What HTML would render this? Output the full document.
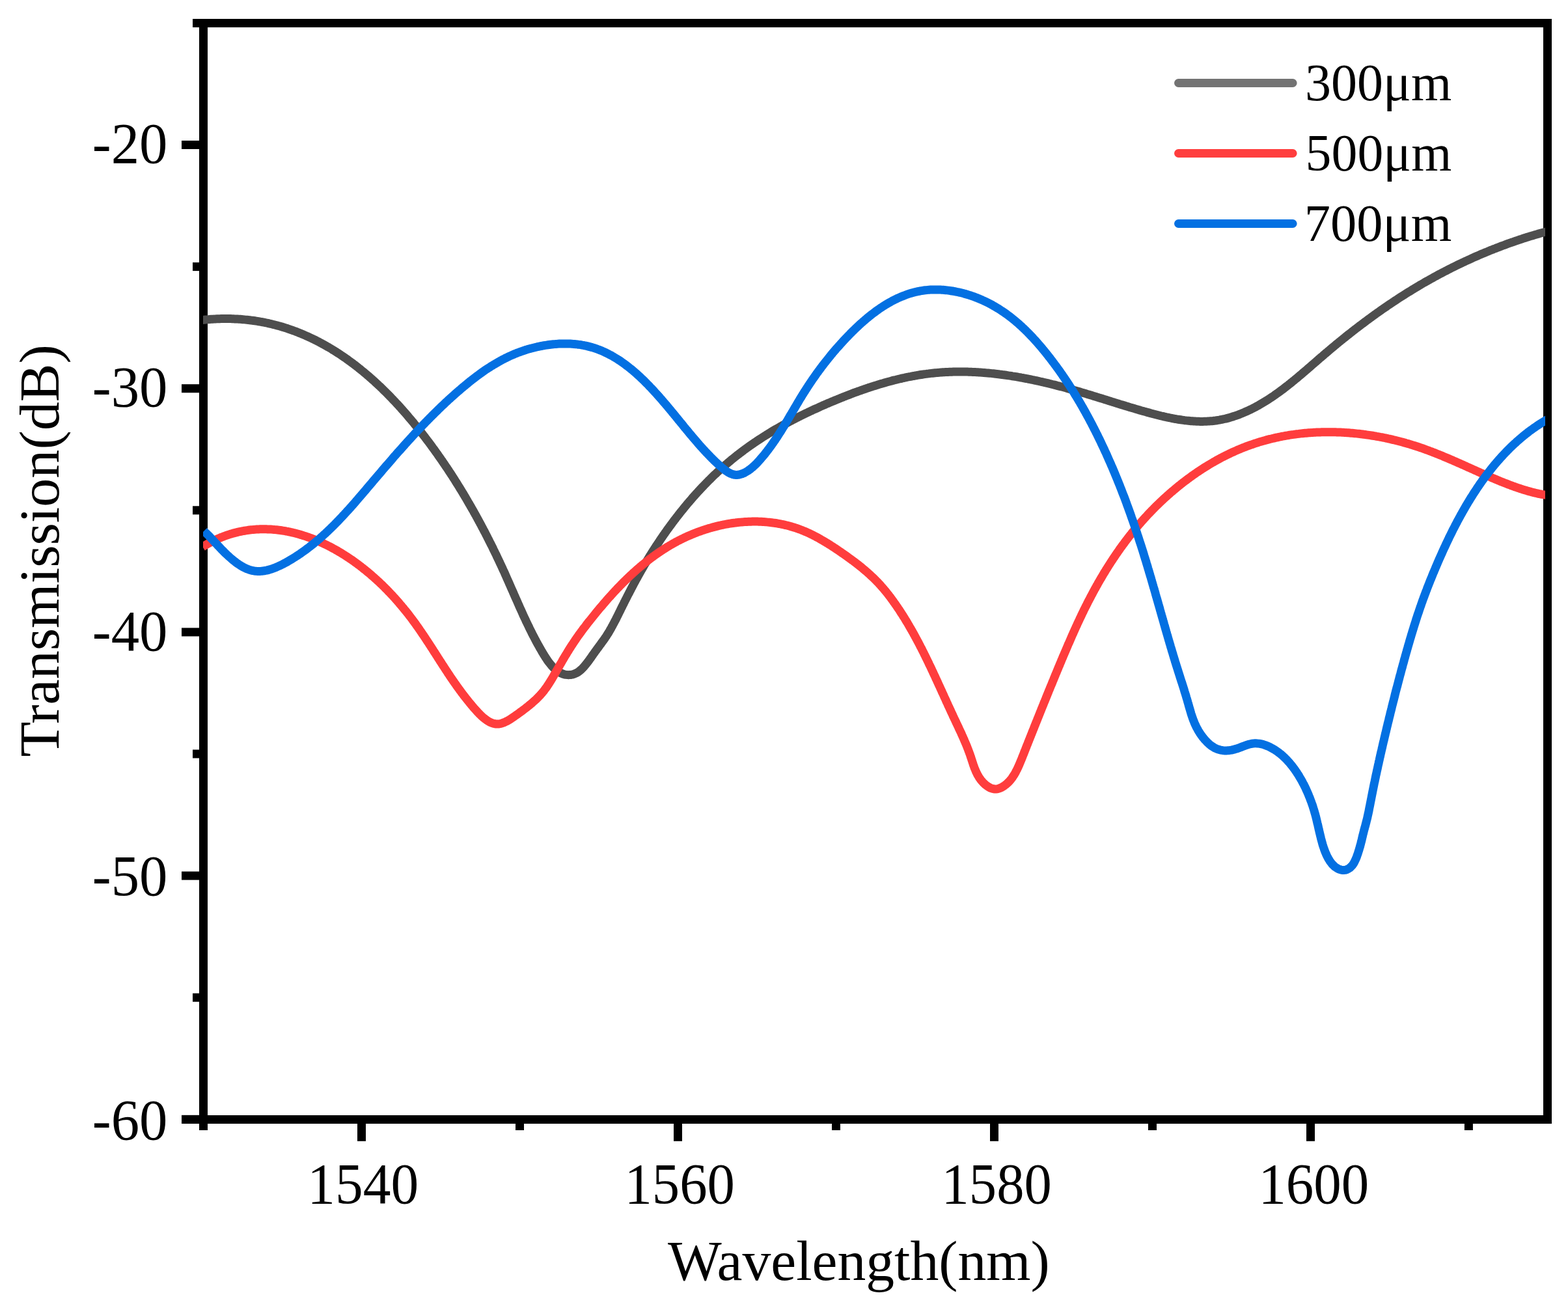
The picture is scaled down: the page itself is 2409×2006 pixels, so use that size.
<!DOCTYPE html><html><head><meta charset="utf-8"><title>Transmission vs Wavelength</title>
<style>html,body{margin:0;padding:0;background:#fff;width:2409px;height:2006px;overflow:hidden}svg{display:block}text{font-family:"Liberation Serif","Times New Roman",serif;fill:#000}</style></head><body>
<svg xmlns="http://www.w3.org/2000/svg" width="2409" height="2006" viewBox="0 0 2409 2006">
<rect width="2409" height="2006" fill="#fff"/>
<rect x="306" y="29" width="13" height="1707" fill="#000"/>
<rect x="296" y="29" width="2088" height="13" fill="#000"/>
<rect x="2371" y="29" width="13" height="1697" fill="#000"/>
<rect x="279" y="1713" width="2105" height="13" fill="#000"/>
<rect x="279" y="216.0" width="28" height="13" fill="#000"/>
<rect x="279" y="590.2" width="28" height="13" fill="#000"/>
<rect x="279" y="964.4" width="28" height="13" fill="#000"/>
<rect x="279" y="1338.6" width="28" height="13" fill="#000"/>
<rect x="279" y="1712.8" width="28" height="13" fill="#000"/>
<rect x="296" y="403.1" width="11" height="13" fill="#000"/>
<rect x="296" y="777.3" width="11" height="13" fill="#000"/>
<rect x="296" y="1151.5" width="11" height="13" fill="#000"/>
<rect x="296" y="1525.7" width="11" height="13" fill="#000"/>
<rect x="549.0" y="1725" width="13" height="27.8" fill="#000"/>
<rect x="1035.0" y="1725" width="13" height="27.8" fill="#000"/>
<rect x="1521.0" y="1725" width="13" height="27.8" fill="#000"/>
<rect x="2007.0" y="1725" width="13" height="27.8" fill="#000"/>
<rect x="792.0" y="1725" width="13" height="11" fill="#000"/>
<rect x="1278.0" y="1725" width="13" height="11" fill="#000"/>
<rect x="1764.0" y="1725" width="13" height="11" fill="#000"/>
<rect x="2249.9" y="1725" width="13" height="11" fill="#000"/>
<text transform="matrix(0.9918,0,0,1.0203,141.78,250.23)" font-size="87.5">-20</text>
<text transform="matrix(0.9918,0,0,1.0186,141.78,624.24)" font-size="87.5">-30</text>
<text transform="matrix(0.9918,0,0,1.0186,141.78,999.24)" font-size="87.5">-40</text>
<text transform="matrix(0.9918,0,0,1.0203,141.78,1375.23)" font-size="87.5">-50</text>
<text transform="matrix(0.9918,0,0,1.0203,141.78,1750.23)" font-size="87.5">-60</text>
<text transform="matrix(0.9768,0,0,1.0169,472.33,1848.04)" font-size="87.5">1540</text>
<text transform="matrix(0.9683,0,0,1.0169,959.50,1848.04)" font-size="87.5">1560</text>
<text transform="matrix(0.9677,0,0,1.0093,1446.50,1847.69)" font-size="87.5">1580</text>
<text transform="matrix(0.9707,0,0,1.0169,1933.38,1848.04)" font-size="87.5">1600</text>
<text transform="matrix(1.0017,0,0,0.9843,1025.90,1965.80)" font-size="87.5">Wavelength(nm)</text>
<text transform="matrix(0,-1.0074,0.9868,0,89.75,1162.51)" font-size="87.5">Transmission(dB)</text>
<defs><clipPath id="pc"><rect x="312.0" y="0" width="2062.0" height="2006"/></clipPath></defs>
<g clip-path="url(#pc)" fill="none" stroke-width="13.0" stroke-linejoin="round">
<path d="M308.9,491.8 L311.1,491.5 L313.3,491.3 L315.6,491.1 L317.8,490.9 L320.0,490.7 L322.2,490.5 L324.4,490.3 L326.6,490.2 L328.8,490.1 L330.9,489.9 L333.1,489.8 L335.3,489.8 L337.5,489.7 L339.6,489.6 L341.8,489.6 L343.9,489.6 L346.0,489.5 L348.2,489.5 L350.3,489.6 L352.4,489.6 L354.5,489.6 L356.6,489.7 L358.8,489.8 L360.8,489.9 L362.9,490.0 L365.0,490.1 L367.1,490.2 L369.2,490.3 L371.3,490.5 L373.3,490.7 L375.4,490.9 L377.4,491.1 L379.5,491.3 L381.5,491.5 L383.5,491.7 L385.6,492.0 L387.6,492.2 L389.6,492.5 L391.6,492.8 L393.6,493.1 L395.6,493.4 L397.6,493.8 L399.6,494.1 L401.6,494.5 L403.6,494.8 L405.6,495.2 L407.5,495.6 L409.5,496.0 L411.4,496.4 L413.4,496.9 L415.3,497.3 L417.3,497.8 L419.2,498.3 L421.1,498.7 L423.1,499.2 L425.0,499.7 L426.9,500.3 L428.8,500.8 L430.7,501.3 L432.6,501.9 L434.5,502.4 L436.4,503.0 L438.3,503.6 L440.1,504.2 L442.0,504.8 L443.9,505.5 L445.7,506.1 L447.6,506.7 L449.4,507.4 L451.3,508.1 L453.1,508.7 L454.9,509.4 L456.8,510.1 L458.6,510.9 L460.4,511.6 L462.2,512.3 L464.0,513.1 L465.8,513.8 L467.6,514.6 L469.4,515.4 L471.2,516.2 L473.0,516.9 L474.7,517.8 L476.5,518.6 L478.3,519.4 L480.0,520.3 L481.8,521.1 L483.5,522.0 L485.3,522.8 L487.0,523.7 L488.8,524.6 L490.5,525.5 L492.2,526.4 L493.9,527.3 L495.6,528.3 L497.3,529.2 L499.0,530.2 L500.7,531.1 L502.4,532.1 L504.1,533.1 L505.8,534.0 L507.5,535.0 L509.2,536.0 L510.8,537.1 L512.5,538.1 L514.1,539.1 L515.8,540.1 L517.4,541.2 L519.1,542.3 L520.7,543.3 L522.4,544.4 L524.0,545.5 L525.6,546.6 L527.2,547.7 L528.8,548.8 L530.5,549.9 L532.1,551.0 L533.7,552.2 L535.3,553.3 L536.8,554.5 L538.4,555.6 L540.0,556.8 L541.6,557.9 L543.1,559.1 L544.7,560.3 L546.3,561.5 L547.8,562.7 L549.4,563.9 L550.9,565.2 L552.5,566.4 L554.0,567.6 L555.5,568.9 L557.1,570.1 L558.6,571.4 L560.1,572.6 L561.6,573.9 L563.1,575.2 L564.6,576.5 L566.1,577.7 L567.6,579.0 L569.1,580.3 L570.6,581.7 L572.1,583.0 L573.6,584.3 L575.0,585.6 L576.5,587.0 L578.0,588.3 L579.4,589.7 L580.9,591.0 L582.3,592.4 L583.8,593.7 L585.2,595.1 L586.7,596.5 L588.1,597.9 L589.5,599.3 L590.9,600.7 L592.4,602.1 L593.8,603.5 L595.2,604.9 L596.6,606.3 L598.0,607.7 L599.4,609.2 L600.8,610.6 L602.2,612.1 L603.5,613.5 L604.9,615.0 L606.3,616.4 L607.7,617.9 L609.0,619.3 L610.4,620.8 L611.8,622.3 L613.1,623.8 L614.5,625.3 L615.8,626.7 L617.1,628.2 L618.5,629.7 L619.8,631.2 L621.1,632.7 L622.5,634.3 L623.8,635.8 L625.1,637.3 L626.4,638.8 L627.7,640.4 L629.0,641.9 L630.3,643.4 L631.6,645.0 L632.9,646.5 L634.2,648.1 L635.5,649.6 L636.7,651.2 L638.0,652.7 L639.3,654.3 L640.6,655.9 L641.8,657.4 L643.1,659.0 L644.3,660.6 L645.6,662.1 L646.8,663.7 L648.1,665.3 L649.3,666.9 L650.5,668.5 L651.8,670.1 L653.0,671.7 L654.2,673.3 L655.4,674.9 L656.6,676.5 L657.9,678.1 L659.1,679.7 L660.3,681.3 L661.5,682.9 L662.7,684.6 L663.8,686.2 L665.0,687.8 L666.2,689.4 L667.4,691.0 L668.6,692.7 L669.7,694.3 L670.9,695.9 L672.1,697.6 L673.2,699.2 L674.4,700.9 L675.5,702.5 L676.7,704.1 L677.8,705.8 L679.0,707.4 L680.1,709.1 L681.2,710.7 L682.4,712.4 L683.5,714.1 L684.6,715.7 L685.7,717.4 L686.9,719.0 L688.0,720.7 L689.1,722.4 L690.2,724.1 L691.3,725.7 L692.4,727.4 L693.5,729.1 L694.6,730.8 L695.6,732.4 L696.7,734.1 L697.8,735.8 L698.9,737.5 L699.9,739.2 L701.0,740.9 L702.1,742.6 L703.1,744.3 L704.2,746.0 L705.3,747.7 L706.3,749.4 L707.3,751.1 L708.4,752.8 L709.4,754.5 L710.5,756.2 L711.5,757.9 L712.5,759.6 L713.6,761.4 L714.6,763.1 L715.6,764.8 L716.6,766.5 L717.6,768.2 L718.6,770.0 L719.6,771.7 L720.6,773.4 L721.6,775.1 L722.6,776.9 L723.6,778.6 L724.6,780.3 L725.6,782.1 L726.6,783.8 L727.6,785.5 L728.5,787.3 L729.5,789.0 L730.5,790.8 L731.5,792.5 L732.4,794.3 L733.4,796.0 L734.3,797.8 L735.3,799.5 L736.2,801.3 L737.2,803.0 L738.1,804.8 L739.1,806.5 L740.0,808.3 L740.9,810.1 L741.9,811.8 L742.8,813.6 L743.7,815.4 L744.7,817.1 L745.6,818.9 L746.5,820.7 L747.4,822.4 L748.3,824.2 L749.2,826.0 L750.1,827.7 L751.0,829.5 L751.9,831.3 L752.8,833.1 L753.7,834.9 L754.6,836.6 L755.5,838.4 L756.4,840.2 L757.3,842.0 L758.1,843.8 L759.0,845.6 L759.9,847.4 L760.7,849.1 L761.6,850.9 L762.5,852.7 L763.3,854.5 L764.2,856.3 L765.0,858.1 L765.9,859.9 L766.7,861.7 L767.6,863.5 L768.4,865.3 L769.3,867.1 L770.1,868.9 L770.9,870.7 L771.8,872.5 L772.6,874.3 L773.4,876.1 L774.3,877.9 L775.1,879.7 L775.9,881.5 L776.7,883.3 L777.5,885.1 L778.3,887.0 L779.1,888.8 L779.9,890.6 L780.7,892.4 L781.5,894.2 L782.3,896.0 L783.1,897.8 L783.9,899.6 L784.7,901.5 L785.5,903.3 L786.3,905.1 L787.1,906.9 L787.9,908.7 L788.7,910.5 L789.5,912.3 L790.3,914.2 L791.1,916.0 L791.9,917.8 L792.7,919.6 L793.5,921.4 L794.3,923.2 L795.1,925.1 L795.9,926.9 L796.7,928.7 L797.5,930.5 L798.3,932.3 L799.1,934.1 L799.9,935.9 L800.8,937.7 L801.6,939.6 L802.4,941.4 L803.2,943.2 L804.0,945.0 L804.9,946.8 L805.7,948.6 L806.6,950.4 L807.4,952.2 L808.2,954.0 L809.1,955.8 L810.0,957.6 L810.8,959.4 L811.7,961.2 L812.6,963.0 L813.4,964.8 L814.3,966.6 L815.2,968.4 L816.1,970.2 L817.0,972.0 L817.9,973.8 L818.8,975.6 L819.7,977.3 L820.7,979.1 L821.6,980.9 L822.5,982.7 L823.5,984.5 L824.4,986.2 L825.4,988.0 L826.4,989.8 L827.4,991.6 L828.4,993.3 L829.3,995.1 L830.4,996.8 L831.4,998.6 L832.4,1000.4 L833.4,1002.1 L834.5,1003.9 L835.5,1005.6 L836.6,1007.3 L837.7,1009.1 L838.8,1010.8 L839.9,1012.4 L841.0,1014.1 L842.1,1015.7 L843.3,1017.3 L844.5,1018.8 L845.7,1020.3 L846.9,1021.8 L848.1,1023.2 L849.4,1024.6 L850.7,1025.9 L852.0,1027.2 L853.3,1028.4 L854.7,1029.5 L856.1,1030.6 L857.5,1031.6 L859.0,1032.5 L860.5,1033.3 L862.0,1034.0 L863.5,1034.7 L865.1,1035.3 L866.7,1035.8 L868.4,1036.2 L870.1,1036.4 L871.7,1036.6 L873.4,1036.7 L875.1,1036.6 L876.9,1036.5 L878.6,1036.2 L880.3,1035.8 L882.0,1035.3 L883.7,1034.6 L885.3,1033.9 L887.0,1032.9 L888.6,1031.9 L890.2,1030.7 L891.8,1029.4 L893.4,1028.0 L894.9,1026.5 L896.4,1024.9 L897.9,1023.2 L899.4,1021.4 L900.8,1019.7 L902.3,1017.8 L903.7,1015.9 L905.1,1014.1 L906.4,1012.2 L907.8,1010.3 L909.1,1008.4 L910.4,1006.5 L911.7,1004.6 L913.0,1002.9 L914.2,1001.1 L915.5,999.4 L916.7,997.7 L917.9,996.1 L919.1,994.5 L920.3,992.9 L921.4,991.3 L922.6,989.8 L923.7,988.2 L924.8,986.7 L925.9,985.2 L927.0,983.7 L928.1,982.1 L929.2,980.6 L930.2,979.0 L931.3,977.5 L932.3,975.9 L933.3,974.3 L934.4,972.6 L935.4,971.0 L936.4,969.3 L937.3,967.6 L938.3,965.9 L939.3,964.2 L940.2,962.4 L941.2,960.7 L942.1,958.9 L943.1,957.1 L944.0,955.3 L944.9,953.6 L945.9,951.8 L946.8,950.0 L947.7,948.2 L948.6,946.4 L949.5,944.6 L950.4,942.7 L951.3,940.9 L952.2,939.1 L953.1,937.3 L953.9,935.5 L954.8,933.8 L955.7,932.0 L956.6,930.2 L957.5,928.4 L958.4,926.7 L959.2,924.9 L960.1,923.2 L961.0,921.4 L961.9,919.7 L962.8,917.9 L963.6,916.2 L964.5,914.5 L965.4,912.8 L966.3,911.1 L967.2,909.4 L968.1,907.6 L969.0,905.9 L969.8,904.2 L970.7,902.6 L971.6,900.9 L972.5,899.2 L973.4,897.5 L974.3,895.8 L975.2,894.1 L976.1,892.5 L977.0,890.8 L977.9,889.1 L978.9,887.5 L979.8,885.8 L980.7,884.1 L981.6,882.5 L982.6,880.8 L983.5,879.1 L984.4,877.5 L985.4,875.8 L986.3,874.2 L987.3,872.5 L988.3,870.9 L989.2,869.2 L990.2,867.5 L991.2,865.9 L992.2,864.2 L993.2,862.6 L994.2,860.9 L995.2,859.3 L996.2,857.6 L997.2,855.9 L998.2,854.3 L999.2,852.6 L1000.3,851.0 L1001.3,849.3 L1002.4,847.6 L1003.4,846.0 L1004.5,844.3 L1005.5,842.7 L1006.6,841.0 L1007.7,839.3 L1008.8,837.7 L1009.9,836.0 L1011.0,834.4 L1012.1,832.7 L1013.2,831.1 L1014.3,829.4 L1015.4,827.8 L1016.5,826.1 L1017.7,824.5 L1018.8,822.8 L1019.9,821.2 L1021.1,819.6 L1022.2,817.9 L1023.4,816.3 L1024.6,814.6 L1025.7,813.0 L1026.9,811.4 L1028.1,809.7 L1029.3,808.1 L1030.5,806.5 L1031.7,804.9 L1032.9,803.2 L1034.1,801.6 L1035.3,800.0 L1036.5,798.4 L1037.8,796.8 L1039.0,795.2 L1040.2,793.6 L1041.5,792.0 L1042.7,790.4 L1044.0,788.8 L1045.2,787.2 L1046.5,785.6 L1047.8,784.0 L1049.1,782.5 L1050.3,780.9 L1051.6,779.3 L1052.9,777.7 L1054.2,776.2 L1055.5,774.6 L1056.8,773.1 L1058.1,771.5 L1059.5,770.0 L1060.8,768.4 L1062.1,766.9 L1063.4,765.3 L1064.8,763.8 L1066.1,762.3 L1067.5,760.8 L1068.8,759.3 L1070.2,757.8 L1071.6,756.2 L1072.9,754.7 L1074.3,753.3 L1075.7,751.8 L1077.1,750.3 L1078.5,748.8 L1079.9,747.3 L1081.3,745.9 L1082.7,744.4 L1084.1,743.0 L1085.5,741.5 L1086.9,740.1 L1088.3,738.6 L1089.8,737.2 L1091.2,735.8 L1092.6,734.4 L1094.1,732.9 L1095.5,731.5 L1097.0,730.1 L1098.4,728.8 L1099.9,727.4 L1101.4,726.0 L1102.8,724.6 L1104.3,723.3 L1105.8,721.9 L1107.3,720.6 L1108.8,719.2 L1110.3,717.9 L1111.8,716.6 L1113.3,715.2 L1114.8,713.9 L1116.3,712.6 L1117.8,711.3 L1119.3,710.0 L1120.8,708.8 L1122.4,707.5 L1123.9,706.2 L1125.4,705.0 L1127.0,703.7 L1128.5,702.5 L1130.1,701.2 L1131.6,700.0 L1133.2,698.8 L1134.8,697.6 L1136.3,696.4 L1137.9,695.2 L1139.5,694.0 L1141.1,692.8 L1142.6,691.6 L1144.2,690.4 L1145.8,689.3 L1147.4,688.1 L1149.0,687.0 L1150.6,685.8 L1152.2,684.7 L1153.8,683.6 L1155.5,682.4 L1157.1,681.3 L1158.7,680.2 L1160.3,679.1 L1162.0,678.0 L1163.6,676.9 L1165.2,675.8 L1166.9,674.7 L1168.5,673.7 L1170.2,672.6 L1171.8,671.5 L1173.5,670.5 L1175.2,669.4 L1176.8,668.4 L1178.5,667.3 L1180.2,666.3 L1181.8,665.3 L1183.5,664.3 L1185.2,663.2 L1186.9,662.2 L1188.6,661.2 L1190.3,660.2 L1192.0,659.2 L1193.7,658.3 L1195.4,657.3 L1197.1,656.3 L1198.8,655.3 L1200.5,654.4 L1202.2,653.4 L1204.0,652.5 L1205.7,651.5 L1207.4,650.6 L1209.1,649.6 L1210.9,648.7 L1212.6,647.8 L1214.4,646.8 L1216.1,645.9 L1217.8,645.0 L1219.6,644.1 L1221.4,643.2 L1223.1,642.3 L1224.9,641.4 L1226.6,640.5 L1228.4,639.6 L1230.2,638.7 L1231.9,637.9 L1233.7,637.0 L1235.5,636.1 L1237.3,635.3 L1239.1,634.4 L1240.9,633.6 L1242.6,632.7 L1244.4,631.9 L1246.2,631.0 L1248.0,630.2 L1249.8,629.3 L1251.6,628.5 L1253.4,627.7 L1255.3,626.9 L1257.1,626.1 L1258.9,625.2 L1260.7,624.4 L1262.5,623.6 L1264.3,622.8 L1266.2,622.0 L1268.0,621.2 L1269.8,620.4 L1271.7,619.6 L1273.5,618.9 L1275.3,618.1 L1277.2,617.3 L1279.0,616.5 L1280.9,615.8 L1282.7,615.0 L1284.6,614.2 L1286.4,613.5 L1288.3,612.7 L1290.1,612.0 L1292.0,611.2 L1293.9,610.5 L1295.7,609.7 L1297.6,609.0 L1299.5,608.2 L1301.3,607.5 L1303.2,606.8 L1305.1,606.1 L1307.0,605.4 L1308.8,604.6 L1310.7,603.9 L1312.6,603.2 L1314.5,602.5 L1316.4,601.9 L1318.3,601.2 L1320.2,600.5 L1322.1,599.8 L1324.0,599.1 L1325.9,598.5 L1327.8,597.8 L1329.7,597.2 L1331.6,596.5 L1333.5,595.9 L1335.4,595.2 L1337.3,594.6 L1339.2,594.0 L1341.1,593.4 L1343.1,592.8 L1345.0,592.2 L1346.9,591.6 L1348.8,591.0 L1350.7,590.4 L1352.7,589.8 L1354.6,589.2 L1356.5,588.7 L1358.4,588.1 L1360.4,587.6 L1362.3,587.0 L1364.2,586.5 L1366.2,586.0 L1368.1,585.5 L1370.1,584.9 L1372.0,584.4 L1373.9,583.9 L1375.9,583.5 L1377.8,583.0 L1379.8,582.5 L1381.7,582.0 L1383.7,581.6 L1385.6,581.1 L1387.6,580.7 L1389.5,580.3 L1391.5,579.8 L1393.4,579.4 L1395.4,579.0 L1397.4,578.6 L1399.3,578.3 L1401.3,577.9 L1403.2,577.5 L1405.2,577.2 L1407.2,576.8 L1409.1,576.5 L1411.1,576.1 L1413.1,575.8 L1415.0,575.5 L1417.0,575.2 L1419.0,574.9 L1420.9,574.6 L1422.9,574.4 L1424.9,574.1 L1426.9,573.9 L1428.8,573.6 L1430.8,573.4 L1432.8,573.2 L1434.8,573.0 L1436.8,572.8 L1438.7,572.6 L1440.7,572.4 L1442.7,572.3 L1444.7,572.1 L1446.7,572.0 L1448.6,571.8 L1450.6,571.7 L1452.6,571.6 L1454.6,571.5 L1456.6,571.4 L1458.6,571.3 L1460.5,571.2 L1462.5,571.2 L1464.5,571.1 L1466.5,571.1 L1468.5,571.1 L1470.5,571.0 L1472.5,571.0 L1474.4,571.0 L1476.4,571.0 L1478.4,571.0 L1480.4,571.0 L1482.4,571.1 L1484.4,571.1 L1486.4,571.1 L1488.3,571.2 L1490.3,571.3 L1492.3,571.3 L1494.3,571.4 L1496.3,571.5 L1498.3,571.6 L1500.3,571.7 L1502.2,571.8 L1504.2,572.0 L1506.2,572.1 L1508.2,572.2 L1510.2,572.4 L1512.1,572.5 L1514.1,572.7 L1516.1,572.9 L1518.1,573.0 L1520.1,573.2 L1522.0,573.4 L1524.0,573.6 L1526.0,573.8 L1528.0,574.0 L1529.9,574.3 L1531.9,574.5 L1533.9,574.7 L1535.8,575.0 L1537.8,575.2 L1539.8,575.5 L1541.7,575.7 L1543.7,576.0 L1545.7,576.3 L1547.6,576.6 L1549.6,576.9 L1551.5,577.1 L1553.5,577.4 L1555.5,577.8 L1557.4,578.1 L1559.4,578.4 L1561.3,578.7 L1563.3,579.0 L1565.2,579.4 L1567.2,579.7 L1569.1,580.1 L1571.0,580.4 L1573.0,580.8 L1574.9,581.2 L1576.9,581.5 L1578.8,581.9 L1580.7,582.3 L1582.7,582.7 L1584.6,583.1 L1586.5,583.5 L1588.4,583.9 L1590.4,584.3 L1592.3,584.7 L1594.2,585.1 L1596.1,585.5 L1598.0,586.0 L1599.9,586.4 L1601.8,586.8 L1603.7,587.3 L1605.7,587.7 L1607.6,588.2 L1609.5,588.6 L1611.3,589.1 L1613.2,589.5 L1615.1,590.0 L1617.0,590.5 L1618.9,590.9 L1620.8,591.4 L1622.7,591.9 L1624.5,592.4 L1626.4,592.9 L1628.3,593.4 L1630.1,593.8 L1632.0,594.3 L1633.9,594.8 L1635.7,595.3 L1637.6,595.8 L1639.4,596.4 L1641.3,596.9 L1643.1,597.4 L1645.0,597.9 L1646.8,598.4 L1648.6,598.9 L1650.5,599.5 L1652.3,600.0 L1654.1,600.5 L1656.0,601.1 L1657.8,601.6 L1659.6,602.1 L1661.4,602.7 L1663.3,603.2 L1665.1,603.8 L1666.9,604.3 L1668.7,604.8 L1670.5,605.4 L1672.3,605.9 L1674.2,606.5 L1676.0,607.1 L1677.8,607.6 L1679.6,608.2 L1681.4,608.7 L1683.2,609.3 L1685.0,609.8 L1686.8,610.4 L1688.7,611.0 L1690.5,611.5 L1692.3,612.1 L1694.1,612.6 L1695.9,613.2 L1697.7,613.8 L1699.5,614.3 L1701.4,614.9 L1703.2,615.5 L1705.0,616.0 L1706.8,616.6 L1708.6,617.2 L1710.5,617.7 L1712.3,618.3 L1714.1,618.9 L1716.0,619.5 L1717.8,620.0 L1719.6,620.6 L1721.5,621.2 L1723.3,621.7 L1725.2,622.3 L1727.0,622.9 L1728.9,623.4 L1730.7,624.0 L1732.6,624.5 L1734.4,625.1 L1736.3,625.7 L1738.2,626.2 L1740.0,626.8 L1741.9,627.3 L1743.8,627.9 L1745.7,628.5 L1747.6,629.0 L1749.5,629.6 L1751.4,630.1 L1753.3,630.7 L1755.2,631.2 L1757.1,631.8 L1759.0,632.3 L1760.9,632.8 L1762.9,633.4 L1764.8,633.9 L1766.7,634.4 L1768.7,635.0 L1770.6,635.5 L1772.6,636.0 L1774.5,636.5 L1776.5,637.0 L1778.4,637.5 L1780.4,638.0 L1782.3,638.5 L1784.3,639.0 L1786.3,639.4 L1788.3,639.9 L1790.2,640.3 L1792.2,640.8 L1794.2,641.2 L1796.2,641.6 L1798.2,642.0 L1800.1,642.4 L1802.1,642.8 L1804.1,643.2 L1806.1,643.5 L1808.1,643.9 L1810.1,644.2 L1812.1,644.5 L1814.1,644.8 L1816.1,645.1 L1818.1,645.4 L1820.0,645.7 L1822.0,645.9 L1824.0,646.1 L1826.0,646.3 L1828.0,646.5 L1830.0,646.7 L1832.0,646.8 L1834.0,647.0 L1836.0,647.1 L1838.0,647.2 L1840.0,647.3 L1841.9,647.3 L1843.9,647.4 L1845.9,647.4 L1847.9,647.4 L1849.9,647.3 L1851.8,647.3 L1853.8,647.2 L1855.8,647.1 L1857.7,647.0 L1859.7,646.8 L1861.7,646.7 L1863.6,646.5 L1865.6,646.2 L1867.5,646.0 L1869.5,645.7 L1871.4,645.4 L1873.4,645.1 L1875.3,644.7 L1877.2,644.3 L1879.2,643.9 L1881.1,643.5 L1883.0,643.1 L1884.9,642.6 L1886.8,642.1 L1888.7,641.6 L1890.6,641.0 L1892.5,640.4 L1894.4,639.9 L1896.3,639.2 L1898.1,638.6 L1900.0,638.0 L1901.9,637.3 L1903.7,636.6 L1905.6,635.9 L1907.4,635.1 L1909.3,634.4 L1911.1,633.6 L1912.9,632.8 L1914.7,632.0 L1916.5,631.2 L1918.3,630.4 L1920.1,629.5 L1921.9,628.7 L1923.7,627.8 L1925.4,626.9 L1927.2,626.0 L1929.0,625.1 L1930.7,624.1 L1932.4,623.2 L1934.2,622.2 L1935.9,621.2 L1937.6,620.2 L1939.3,619.2 L1941.0,618.2 L1942.7,617.2 L1944.4,616.2 L1946.0,615.1 L1947.7,614.1 L1949.4,613.0 L1951.0,611.9 L1952.7,610.8 L1954.3,609.7 L1956.0,608.6 L1957.6,607.5 L1959.2,606.3 L1960.8,605.2 L1962.5,604.0 L1964.1,602.9 L1965.7,601.7 L1967.3,600.5 L1968.9,599.3 L1970.5,598.2 L1972.1,597.0 L1973.6,595.7 L1975.2,594.5 L1976.8,593.3 L1978.4,592.1 L1979.9,590.8 L1981.5,589.6 L1983.0,588.4 L1984.6,587.1 L1986.1,585.8 L1987.7,584.6 L1989.2,583.3 L1990.8,582.0 L1992.3,580.8 L1993.9,579.5 L1995.4,578.2 L1996.9,576.9 L1998.5,575.6 L2000.0,574.3 L2001.5,573.0 L2003.0,571.7 L2004.6,570.4 L2006.1,569.1 L2007.6,567.8 L2009.1,566.5 L2010.6,565.2 L2012.2,563.9 L2013.7,562.6 L2015.2,561.2 L2016.7,559.9 L2018.2,558.6 L2019.7,557.3 L2021.3,556.0 L2022.8,554.7 L2024.3,553.3 L2025.8,552.0 L2027.3,550.7 L2028.8,549.4 L2030.4,548.1 L2031.9,546.8 L2033.4,545.5 L2034.9,544.2 L2036.4,542.9 L2038.0,541.6 L2039.5,540.3 L2041.0,539.0 L2042.6,537.7 L2044.1,536.4 L2045.6,535.1 L2047.2,533.8 L2048.7,532.6 L2050.2,531.3 L2051.8,530.0 L2053.3,528.7 L2054.8,527.5 L2056.4,526.2 L2057.9,524.9 L2059.5,523.7 L2061.0,522.4 L2062.6,521.2 L2064.1,519.9 L2065.7,518.7 L2067.3,517.4 L2068.8,516.2 L2070.4,514.9 L2071.9,513.7 L2073.5,512.5 L2075.1,511.2 L2076.6,510.0 L2078.2,508.8 L2079.8,507.5 L2081.3,506.3 L2082.9,505.1 L2084.5,503.9 L2086.1,502.7 L2087.6,501.5 L2089.2,500.3 L2090.8,499.1 L2092.4,497.9 L2094.0,496.7 L2095.6,495.5 L2097.2,494.3 L2098.8,493.1 L2100.4,491.9 L2102.0,490.7 L2103.6,489.6 L2105.2,488.4 L2106.8,487.2 L2108.4,486.0 L2110.0,484.9 L2111.6,483.7 L2113.2,482.6 L2114.8,481.4 L2116.4,480.2 L2118.1,479.1 L2119.7,478.0 L2121.3,476.8 L2122.9,475.7 L2124.6,474.5 L2126.2,473.4 L2127.8,472.3 L2129.5,471.2 L2131.1,470.0 L2132.7,468.9 L2134.4,467.8 L2136.0,466.7 L2137.7,465.6 L2139.3,464.5 L2141.0,463.4 L2142.6,462.3 L2144.3,461.2 L2146.0,460.1 L2147.6,459.0 L2149.3,457.9 L2151.0,456.8 L2152.6,455.8 L2154.3,454.7 L2156.0,453.6 L2157.7,452.6 L2159.3,451.5 L2161.0,450.4 L2162.7,449.4 L2164.4,448.3 L2166.1,447.3 L2167.8,446.3 L2169.5,445.2 L2171.2,444.2 L2172.9,443.1 L2174.6,442.1 L2176.3,441.1 L2178.0,440.1 L2179.7,439.1 L2181.4,438.0 L2183.2,437.0 L2184.9,436.0 L2186.6,435.0 L2188.3,434.0 L2190.1,433.0 L2191.8,432.1 L2193.5,431.1 L2195.3,430.1 L2197.0,429.1 L2198.8,428.1 L2200.5,427.2 L2202.3,426.2 L2204.0,425.2 L2205.8,424.3 L2207.5,423.3 L2209.3,422.4 L2211.0,421.4 L2212.8,420.5 L2214.6,419.6 L2216.3,418.6 L2218.1,417.7 L2219.9,416.8 L2221.7,415.9 L2223.4,415.0 L2225.2,414.0 L2227.0,413.1 L2228.8,412.2 L2230.6,411.3 L2232.4,410.4 L2234.2,409.6 L2235.9,408.7 L2237.7,407.8 L2239.5,406.9 L2241.3,406.0 L2243.1,405.2 L2245.0,404.3 L2246.8,403.4 L2248.6,402.6 L2250.4,401.7 L2252.2,400.9 L2254.0,400.1 L2255.8,399.2 L2257.7,398.4 L2259.5,397.6 L2261.3,396.7 L2263.1,395.9 L2265.0,395.1 L2266.8,394.3 L2268.6,393.5 L2270.5,392.7 L2272.3,391.9 L2274.2,391.1 L2276.0,390.3 L2277.8,389.5 L2279.7,388.8 L2281.5,388.0 L2283.4,387.2 L2285.2,386.5 L2287.1,385.7 L2288.9,384.9 L2290.8,384.2 L2292.7,383.5 L2294.5,382.7 L2296.4,382.0 L2298.3,381.3 L2300.1,380.5 L2302.0,379.8 L2303.9,379.1 L2305.7,378.4 L2307.6,377.7 L2309.5,377.0 L2311.4,376.3 L2313.2,375.6 L2315.1,374.9 L2317.0,374.2 L2318.9,373.5 L2320.8,372.9 L2322.7,372.2 L2324.6,371.6 L2326.5,370.9 L2328.3,370.2 L2330.2,369.6 L2332.1,369.0 L2334.0,368.3 L2335.9,367.7 L2337.8,367.1 L2339.7,366.4 L2341.6,365.8 L2343.5,365.2 L2345.5,364.6 L2347.4,364.0 L2349.3,363.4 L2351.2,362.8 L2353.1,362.3 L2355.0,361.7 L2356.9,361.1 L2358.8,360.5 L2360.8,360.0 L2362.7,359.4 L2364.6,358.9 L2366.5,358.3 L2368.4,357.8 L2370.4,357.2 L2372.3,356.7 L2374.2,356.2 L2376.2,355.7 L2378.1,355.2 L2380.0,354.6" stroke="#4e4e4e"/>
<path d="M311.3,839.9 L313.2,838.7 L315.1,837.6 L317.1,836.5 L319.0,835.4 L321.0,834.3 L322.9,833.3 L324.9,832.3 L326.8,831.3 L328.8,830.3 L330.7,829.4 L332.7,828.5 L334.6,827.6 L336.6,826.8 L338.5,825.9 L340.5,825.1 L342.5,824.4 L344.4,823.6 L346.4,822.9 L348.3,822.2 L350.3,821.6 L352.3,820.9 L354.2,820.3 L356.2,819.7 L358.2,819.1 L360.1,818.6 L362.1,818.1 L364.1,817.6 L366.0,817.1 L368.0,816.7 L370.0,816.3 L371.9,815.9 L373.9,815.5 L375.9,815.2 L377.8,814.9 L379.8,814.6 L381.8,814.3 L383.7,814.0 L385.7,813.8 L387.7,813.6 L389.6,813.4 L391.6,813.3 L393.6,813.1 L395.5,813.0 L397.5,812.9 L399.4,812.8 L401.4,812.8 L403.3,812.8 L405.3,812.8 L407.2,812.8 L409.2,812.8 L411.1,812.9 L413.1,812.9 L415.0,813.0 L417.0,813.1 L418.9,813.3 L420.9,813.4 L422.8,813.6 L424.7,813.8 L426.7,814.0 L428.6,814.3 L430.5,814.5 L432.5,814.8 L434.4,815.1 L436.3,815.4 L438.2,815.7 L440.1,816.1 L442.1,816.4 L444.0,816.8 L445.9,817.2 L447.8,817.7 L449.7,818.1 L451.6,818.5 L453.5,819.0 L455.4,819.5 L457.3,820.0 L459.1,820.5 L461.0,821.1 L462.9,821.6 L464.8,822.2 L466.6,822.8 L468.5,823.4 L470.4,824.0 L472.2,824.7 L474.1,825.3 L475.9,826.0 L477.8,826.7 L479.6,827.4 L481.5,828.1 L483.3,828.8 L485.1,829.6 L486.9,830.3 L488.8,831.1 L490.6,831.9 L492.4,832.7 L494.2,833.5 L496.0,834.4 L497.8,835.2 L499.6,836.1 L501.4,836.9 L503.1,837.8 L504.9,838.7 L506.7,839.6 L508.4,840.5 L510.2,841.5 L511.9,842.4 L513.7,843.4 L515.4,844.3 L517.1,845.3 L518.9,846.3 L520.6,847.3 L522.3,848.3 L524.0,849.4 L525.7,850.4 L527.4,851.5 L529.1,852.5 L530.8,853.6 L532.5,854.7 L534.1,855.8 L535.8,856.9 L537.4,858.0 L539.1,859.1 L540.7,860.2 L542.4,861.4 L544.0,862.5 L545.6,863.7 L547.2,864.9 L548.8,866.0 L550.4,867.2 L552.0,868.4 L553.6,869.6 L555.2,870.9 L556.8,872.1 L558.3,873.3 L559.9,874.6 L561.5,875.8 L563.0,877.1 L564.5,878.3 L566.1,879.6 L567.6,880.9 L569.1,882.2 L570.6,883.5 L572.1,884.8 L573.6,886.1 L575.1,887.4 L576.6,888.8 L578.1,890.1 L579.5,891.4 L581.0,892.8 L582.4,894.1 L583.9,895.5 L585.3,896.9 L586.8,898.2 L588.2,899.6 L589.6,901.0 L591.0,902.4 L592.4,903.8 L593.8,905.2 L595.2,906.6 L596.5,908.0 L597.9,909.5 L599.3,910.9 L600.6,912.3 L602.0,913.8 L603.3,915.2 L604.6,916.6 L606.0,918.1 L607.3,919.6 L608.6,921.0 L609.9,922.5 L611.2,924.0 L612.5,925.4 L613.7,926.9 L615.0,928.4 L616.3,929.9 L617.5,931.4 L618.8,932.9 L620.0,934.4 L621.2,935.9 L622.5,937.4 L623.7,938.9 L624.9,940.4 L626.1,941.9 L627.3,943.4 L628.4,944.9 L629.6,946.5 L630.8,948.0 L631.9,949.5 L633.1,951.0 L634.2,952.6 L635.3,954.1 L636.5,955.6 L637.6,957.2 L638.7,958.7 L639.8,960.3 L640.9,961.8 L642.0,963.4 L643.1,964.9 L644.2,966.5 L645.2,968.0 L646.3,969.6 L647.4,971.1 L648.4,972.7 L649.5,974.3 L650.6,975.8 L651.6,977.4 L652.7,979.0 L653.7,980.5 L654.7,982.1 L655.8,983.7 L656.8,985.3 L657.9,986.9 L658.9,988.4 L659.9,990.0 L661.0,991.6 L662.0,993.2 L663.0,994.8 L664.1,996.4 L665.1,998.0 L666.1,999.6 L667.1,1001.2 L668.2,1002.8 L669.2,1004.4 L670.2,1006.0 L671.3,1007.6 L672.3,1009.2 L673.3,1010.9 L674.4,1012.5 L675.4,1014.1 L676.4,1015.7 L677.5,1017.3 L678.5,1019.0 L679.6,1020.6 L680.6,1022.2 L681.7,1023.8 L682.8,1025.5 L683.8,1027.1 L684.9,1028.7 L686.0,1030.4 L687.1,1032.0 L688.1,1033.7 L689.2,1035.3 L690.3,1036.9 L691.4,1038.6 L692.5,1040.2 L693.6,1041.9 L694.8,1043.5 L695.9,1045.2 L697.0,1046.8 L698.2,1048.5 L699.3,1050.1 L700.5,1051.7 L701.6,1053.4 L702.8,1055.0 L704.0,1056.7 L705.2,1058.3 L706.4,1060.0 L707.6,1061.6 L708.8,1063.3 L710.0,1064.9 L711.3,1066.5 L712.5,1068.2 L713.8,1069.8 L715.1,1071.5 L716.4,1073.1 L717.6,1074.7 L719.0,1076.4 L720.3,1078.0 L721.6,1079.6 L722.9,1081.2 L724.3,1082.9 L725.7,1084.5 L727.0,1086.1 L728.4,1087.7 L729.8,1089.3 L731.3,1090.9 L732.7,1092.5 L734.1,1094.0 L735.6,1095.6 L737.1,1097.1 L738.5,1098.5 L740.0,1099.9 L741.5,1101.3 L743.0,1102.6 L744.6,1103.8 L746.1,1105.0 L747.6,1106.1 L749.2,1107.2 L750.8,1108.1 L752.3,1109.0 L753.9,1109.7 L755.5,1110.4 L757.1,1111.0 L758.7,1111.4 L760.3,1111.8 L761.9,1112.0 L763.5,1112.1 L765.1,1112.0 L766.8,1111.9 L768.4,1111.6 L770.0,1111.2 L771.7,1110.7 L773.3,1110.1 L775.0,1109.5 L776.6,1108.7 L778.3,1107.9 L780.0,1107.0 L781.6,1106.1 L783.3,1105.1 L785.0,1104.0 L786.6,1102.9 L788.3,1101.8 L790.0,1100.6 L791.6,1099.4 L793.3,1098.3 L795.0,1097.1 L796.7,1095.8 L798.3,1094.6 L800.0,1093.4 L801.7,1092.2 L803.3,1091.0 L804.9,1089.7 L806.6,1088.5 L808.2,1087.2 L809.8,1086.0 L811.4,1084.7 L813.0,1083.4 L814.6,1082.1 L816.1,1080.8 L817.6,1079.6 L819.1,1078.2 L820.6,1076.9 L822.0,1075.6 L823.5,1074.3 L824.9,1072.9 L826.2,1071.6 L827.6,1070.2 L828.9,1068.9 L830.2,1067.5 L831.4,1066.1 L832.6,1064.7 L833.8,1063.3 L834.9,1061.9 L836.1,1060.5 L837.1,1059.0 L838.2,1057.6 L839.3,1056.1 L840.3,1054.7 L841.3,1053.2 L842.3,1051.7 L843.3,1050.2 L844.2,1048.7 L845.2,1047.2 L846.1,1045.7 L847.0,1044.1 L848.0,1042.6 L848.9,1041.0 L849.8,1039.5 L850.7,1037.9 L851.6,1036.3 L852.6,1034.7 L853.5,1033.1 L854.4,1031.5 L855.4,1029.8 L856.3,1028.2 L857.3,1026.5 L858.2,1024.9 L859.2,1023.2 L860.1,1021.5 L861.1,1019.9 L862.1,1018.2 L863.1,1016.5 L864.0,1014.8 L865.0,1013.1 L866.0,1011.4 L867.0,1009.7 L868.0,1008.0 L869.1,1006.3 L870.1,1004.7 L871.1,1003.0 L872.1,1001.3 L873.2,999.6 L874.2,997.9 L875.2,996.3 L876.3,994.6 L877.3,993.0 L878.4,991.3 L879.5,989.7 L880.5,988.1 L881.6,986.5 L882.7,984.9 L883.8,983.3 L884.8,981.7 L885.9,980.1 L887.0,978.5 L888.1,977.0 L889.2,975.4 L890.4,973.9 L891.5,972.3 L892.6,970.8 L893.7,969.2 L894.9,967.7 L896.0,966.2 L897.1,964.7 L898.3,963.2 L899.5,961.7 L900.6,960.1 L901.8,958.6 L902.9,957.1 L904.1,955.6 L905.3,954.2 L906.5,952.7 L907.7,951.2 L908.9,949.7 L910.1,948.2 L911.3,946.7 L912.5,945.2 L913.7,943.7 L914.9,942.2 L916.1,940.8 L917.3,939.3 L918.6,937.8 L919.8,936.3 L921.0,934.8 L922.3,933.3 L923.5,931.9 L924.8,930.4 L926.1,928.9 L927.3,927.4 L928.6,926.0 L929.9,924.5 L931.2,923.0 L932.4,921.5 L933.7,920.1 L935.0,918.6 L936.3,917.2 L937.7,915.7 L939.0,914.2 L940.3,912.8 L941.6,911.3 L942.9,909.9 L944.3,908.4 L945.6,907.0 L947.0,905.6 L948.3,904.1 L949.7,902.7 L951.1,901.3 L952.4,899.9 L953.8,898.5 L955.2,897.0 L956.6,895.6 L958.0,894.2 L959.4,892.8 L960.8,891.5 L962.2,890.1 L963.6,888.7 L965.1,887.3 L966.5,886.0 L967.9,884.6 L969.4,883.2 L970.8,881.9 L972.3,880.5 L973.8,879.2 L975.2,877.9 L976.7,876.6 L978.2,875.2 L979.7,873.9 L981.2,872.6 L982.7,871.3 L984.2,870.0 L985.7,868.8 L987.2,867.5 L988.8,866.2 L990.3,865.0 L991.9,863.7 L993.4,862.5 L995.0,861.2 L996.5,860.0 L998.1,858.8 L999.7,857.6 L1001.3,856.4 L1002.9,855.2 L1004.5,854.0 L1006.1,852.9 L1007.7,851.7 L1009.3,850.6 L1011.0,849.4 L1012.6,848.3 L1014.3,847.2 L1015.9,846.1 L1017.6,845.0 L1019.3,843.9 L1020.9,842.8 L1022.6,841.8 L1024.3,840.7 L1026.0,839.7 L1027.7,838.6 L1029.4,837.6 L1031.2,836.6 L1032.9,835.6 L1034.6,834.6 L1036.4,833.7 L1038.1,832.7 L1039.9,831.7 L1041.7,830.8 L1043.5,829.9 L1045.2,829.0 L1047.0,828.1 L1048.8,827.2 L1050.7,826.3 L1052.5,825.5 L1054.3,824.6 L1056.1,823.8 L1058.0,823.0 L1059.8,822.2 L1061.7,821.4 L1063.6,820.6 L1065.4,819.9 L1067.3,819.1 L1069.2,818.4 L1071.1,817.6 L1073.0,816.9 L1074.9,816.3 L1076.8,815.6 L1078.7,814.9 L1080.6,814.3 L1082.5,813.6 L1084.4,813.0 L1086.4,812.4 L1088.3,811.8 L1090.2,811.2 L1092.2,810.7 L1094.1,810.1 L1096.1,809.6 L1098.1,809.1 L1100.0,808.6 L1102.0,808.1 L1103.9,807.6 L1105.9,807.2 L1107.9,806.7 L1109.9,806.3 L1111.8,805.9 L1113.8,805.5 L1115.8,805.1 L1117.8,804.8 L1119.8,804.4 L1121.8,804.1 L1123.8,803.8 L1125.8,803.5 L1127.8,803.2 L1129.8,803.0 L1131.8,802.7 L1133.8,802.5 L1135.8,802.3 L1137.8,802.1 L1139.8,801.9 L1141.8,801.8 L1143.8,801.6 L1145.8,801.5 L1147.8,801.4 L1149.8,801.3 L1151.8,801.2 L1153.8,801.2 L1155.8,801.1 L1157.8,801.1 L1159.8,801.1 L1161.8,801.1 L1163.8,801.1 L1165.8,801.2 L1167.8,801.3 L1169.8,801.3 L1171.7,801.5 L1173.7,801.6 L1175.7,801.7 L1177.7,801.9 L1179.7,802.1 L1181.7,802.3 L1183.6,802.5 L1185.6,802.7 L1187.6,803.0 L1189.5,803.2 L1191.5,803.5 L1193.5,803.8 L1195.4,804.2 L1197.4,804.5 L1199.3,804.9 L1201.3,805.3 L1203.2,805.7 L1205.1,806.1 L1207.1,806.6 L1209.0,807.0 L1210.9,807.5 L1212.8,808.0 L1214.7,808.6 L1216.6,809.1 L1218.5,809.7 L1220.4,810.3 L1222.3,810.9 L1224.2,811.5 L1226.0,812.1 L1227.9,812.8 L1229.8,813.5 L1231.6,814.2 L1233.5,815.0 L1235.3,815.7 L1237.1,816.5 L1239.0,817.3 L1240.8,818.1 L1242.6,818.9 L1244.4,819.8 L1246.2,820.6 L1248.0,821.5 L1249.8,822.4 L1251.5,823.3 L1253.3,824.2 L1255.1,825.2 L1256.8,826.1 L1258.6,827.1 L1260.3,828.1 L1262.0,829.1 L1263.8,830.1 L1265.5,831.1 L1267.2,832.1 L1268.9,833.1 L1270.6,834.2 L1272.3,835.2 L1274.0,836.3 L1275.6,837.3 L1277.3,838.4 L1279.0,839.5 L1280.6,840.5 L1282.3,841.6 L1283.9,842.7 L1285.5,843.8 L1287.2,844.9 L1288.8,846.0 L1290.4,847.1 L1292.0,848.2 L1293.6,849.3 L1295.2,850.4 L1296.8,851.5 L1298.3,852.6 L1299.9,853.7 L1301.5,854.8 L1303.0,855.9 L1304.6,857.1 L1306.1,858.2 L1307.6,859.3 L1309.1,860.4 L1310.7,861.5 L1312.2,862.7 L1313.7,863.8 L1315.2,864.9 L1316.6,866.1 L1318.1,867.2 L1319.6,868.4 L1321.1,869.6 L1322.5,870.7 L1324.0,871.9 L1325.4,873.1 L1326.8,874.3 L1328.3,875.5 L1329.7,876.7 L1331.1,877.9 L1332.5,879.1 L1333.9,880.4 L1335.3,881.6 L1336.7,882.9 L1338.0,884.2 L1339.4,885.4 L1340.8,886.7 L1342.1,888.0 L1343.5,889.3 L1344.8,890.7 L1346.1,892.0 L1347.5,893.4 L1348.8,894.7 L1350.1,896.1 L1351.4,897.5 L1352.7,898.9 L1353.9,900.4 L1355.2,901.8 L1356.5,903.3 L1357.8,904.7 L1359.0,906.2 L1360.3,907.7 L1361.5,909.3 L1362.7,910.8 L1363.9,912.3 L1365.2,913.9 L1366.4,915.5 L1367.6,917.0 L1368.8,918.6 L1369.9,920.2 L1371.1,921.8 L1372.3,923.4 L1373.4,925.1 L1374.6,926.7 L1375.7,928.3 L1376.9,930.0 L1378.0,931.6 L1379.1,933.3 L1380.2,934.9 L1381.4,936.6 L1382.5,938.2 L1383.5,939.9 L1384.6,941.6 L1385.7,943.3 L1386.8,944.9 L1387.8,946.6 L1388.9,948.3 L1390.0,950.0 L1391.0,951.7 L1392.0,953.4 L1393.1,955.1 L1394.1,956.8 L1395.1,958.5 L1396.1,960.2 L1397.1,962.0 L1398.1,963.7 L1399.1,965.4 L1400.1,967.1 L1401.1,968.9 L1402.1,970.6 L1403.1,972.4 L1404.0,974.1 L1405.0,975.8 L1405.9,977.6 L1406.9,979.3 L1407.8,981.1 L1408.8,982.9 L1409.7,984.6 L1410.7,986.4 L1411.6,988.1 L1412.5,989.9 L1413.4,991.7 L1414.3,993.5 L1415.3,995.2 L1416.2,997.0 L1417.1,998.8 L1418.0,1000.6 L1418.9,1002.4 L1419.8,1004.2 L1420.6,1005.9 L1421.5,1007.7 L1422.4,1009.5 L1423.3,1011.3 L1424.2,1013.1 L1425.0,1014.9 L1425.9,1016.7 L1426.8,1018.5 L1427.6,1020.3 L1428.5,1022.1 L1429.4,1023.9 L1430.2,1025.7 L1431.1,1027.5 L1431.9,1029.3 L1432.8,1031.1 L1433.6,1033.0 L1434.5,1034.8 L1435.3,1036.6 L1436.2,1038.4 L1437.0,1040.2 L1437.8,1042.0 L1438.7,1043.8 L1439.5,1045.7 L1440.4,1047.5 L1441.2,1049.3 L1442.0,1051.1 L1442.8,1052.9 L1443.7,1054.7 L1444.5,1056.6 L1445.3,1058.4 L1446.2,1060.2 L1447.0,1062.0 L1447.8,1063.8 L1448.7,1065.6 L1449.5,1067.4 L1450.3,1069.3 L1451.1,1071.1 L1452.0,1072.9 L1452.8,1074.7 L1453.6,1076.5 L1454.4,1078.3 L1455.3,1080.1 L1456.1,1082.0 L1456.9,1083.8 L1457.8,1085.6 L1458.6,1087.4 L1459.4,1089.2 L1460.3,1091.0 L1461.1,1092.8 L1461.9,1094.6 L1462.8,1096.4 L1463.6,1098.2 L1464.4,1100.0 L1465.3,1101.8 L1466.1,1103.6 L1467.0,1105.4 L1467.8,1107.2 L1468.7,1109.0 L1469.5,1110.8 L1470.4,1112.6 L1471.2,1114.4 L1472.1,1116.2 L1472.9,1118.0 L1473.7,1119.8 L1474.6,1121.6 L1475.4,1123.4 L1476.3,1125.2 L1477.1,1127.0 L1477.9,1128.8 L1478.7,1130.6 L1479.5,1132.4 L1480.3,1134.2 L1481.2,1136.1 L1481.9,1137.9 L1482.7,1139.8 L1483.5,1141.6 L1484.3,1143.5 L1485.1,1145.3 L1485.8,1147.2 L1486.5,1149.1 L1487.3,1151.0 L1488.0,1152.9 L1488.7,1154.8 L1489.4,1156.7 L1490.1,1158.6 L1490.8,1160.6 L1491.4,1162.5 L1492.1,1164.5 L1492.7,1166.5 L1493.4,1168.4 L1494.0,1170.4 L1494.7,1172.4 L1495.3,1174.4 L1496.0,1176.3 L1496.7,1178.3 L1497.4,1180.2 L1498.2,1182.1 L1499.0,1184.0 L1499.8,1185.9 L1500.7,1187.7 L1501.6,1189.5 L1502.6,1191.3 L1503.6,1193.0 L1504.7,1194.8 L1505.8,1196.4 L1507.0,1198.0 L1508.3,1199.6 L1509.6,1201.1 L1511.0,1202.6 L1512.5,1204.0 L1514.0,1205.3 L1515.7,1206.6 L1517.3,1207.8 L1519.1,1208.9 L1520.8,1209.9 L1522.7,1210.7 L1524.5,1211.3 L1526.4,1211.8 L1528.2,1212.0 L1530.1,1212.1 L1532.0,1211.8 L1533.9,1211.4 L1535.7,1210.8 L1537.5,1210.0 L1539.3,1209.2 L1541.0,1208.2 L1542.6,1207.1 L1544.2,1205.9 L1545.8,1204.7 L1547.3,1203.4 L1548.7,1202.1 L1550.1,1200.7 L1551.4,1199.2 L1552.7,1197.7 L1553.9,1196.2 L1555.1,1194.6 L1556.2,1192.9 L1557.3,1191.3 L1558.4,1189.6 L1559.4,1187.8 L1560.4,1186.0 L1561.3,1184.2 L1562.3,1182.4 L1563.2,1180.5 L1564.1,1178.7 L1564.9,1176.8 L1565.8,1174.9 L1566.6,1172.9 L1567.4,1171.0 L1568.2,1169.1 L1569.0,1167.1 L1569.8,1165.2 L1570.6,1163.2 L1571.3,1161.3 L1572.1,1159.3 L1572.9,1157.4 L1573.6,1155.5 L1574.4,1153.5 L1575.2,1151.6 L1575.9,1149.7 L1576.7,1147.8 L1577.4,1145.8 L1578.2,1143.9 L1579.0,1142.0 L1579.7,1140.1 L1580.5,1138.2 L1581.2,1136.3 L1582.0,1134.4 L1582.7,1132.6 L1583.5,1130.7 L1584.2,1128.8 L1585.0,1126.9 L1585.7,1125.0 L1586.5,1123.2 L1587.2,1121.3 L1588.0,1119.4 L1588.7,1117.6 L1589.4,1115.7 L1590.2,1113.9 L1590.9,1112.0 L1591.7,1110.1 L1592.4,1108.3 L1593.2,1106.4 L1593.9,1104.6 L1594.6,1102.8 L1595.4,1100.9 L1596.1,1099.1 L1596.9,1097.2 L1597.6,1095.4 L1598.3,1093.6 L1599.1,1091.7 L1599.8,1089.9 L1600.5,1088.1 L1601.3,1086.2 L1602.0,1084.4 L1602.8,1082.6 L1603.5,1080.7 L1604.2,1078.9 L1605.0,1077.1 L1605.7,1075.3 L1606.5,1073.4 L1607.2,1071.6 L1607.9,1069.8 L1608.7,1068.0 L1609.4,1066.2 L1610.2,1064.3 L1610.9,1062.5 L1611.6,1060.7 L1612.4,1058.9 L1613.1,1057.1 L1613.9,1055.2 L1614.6,1053.4 L1615.4,1051.6 L1616.1,1049.8 L1616.9,1048.0 L1617.6,1046.1 L1618.4,1044.3 L1619.1,1042.5 L1619.9,1040.7 L1620.6,1038.8 L1621.4,1037.0 L1622.1,1035.2 L1622.9,1033.4 L1623.7,1031.5 L1624.4,1029.7 L1625.2,1027.9 L1625.9,1026.0 L1626.7,1024.2 L1627.5,1022.4 L1628.2,1020.5 L1629.0,1018.7 L1629.8,1016.9 L1630.5,1015.0 L1631.3,1013.2 L1632.1,1011.3 L1632.9,1009.5 L1633.6,1007.6 L1634.4,1005.8 L1635.2,1003.9 L1636.0,1002.1 L1636.8,1000.2 L1637.6,998.4 L1638.4,996.5 L1639.2,994.7 L1640.0,992.8 L1640.7,991.0 L1641.5,989.1 L1642.4,987.3 L1643.2,985.4 L1644.0,983.6 L1644.8,981.7 L1645.6,979.9 L1646.4,978.0 L1647.2,976.2 L1648.0,974.3 L1648.9,972.5 L1649.7,970.6 L1650.5,968.8 L1651.3,966.9 L1652.2,965.1 L1653.0,963.2 L1653.9,961.4 L1654.7,959.6 L1655.5,957.7 L1656.4,955.9 L1657.2,954.1 L1658.1,952.3 L1658.9,950.4 L1659.8,948.6 L1660.7,946.8 L1661.5,945.0 L1662.4,943.2 L1663.3,941.3 L1664.2,939.5 L1665.0,937.7 L1665.9,935.9 L1666.8,934.1 L1667.7,932.3 L1668.6,930.6 L1669.5,928.8 L1670.4,927.0 L1671.3,925.2 L1672.2,923.4 L1673.1,921.7 L1674.1,919.9 L1675.0,918.1 L1675.9,916.4 L1676.8,914.6 L1677.8,912.8 L1678.7,911.1 L1679.6,909.3 L1680.6,907.6 L1681.5,905.8 L1682.5,904.1 L1683.5,902.4 L1684.4,900.6 L1685.4,898.9 L1686.4,897.2 L1687.3,895.4 L1688.3,893.7 L1689.3,892.0 L1690.3,890.3 L1691.3,888.6 L1692.3,886.9 L1693.3,885.2 L1694.3,883.5 L1695.3,881.8 L1696.3,880.1 L1697.4,878.4 L1698.4,876.7 L1699.4,875.0 L1700.5,873.4 L1701.5,871.7 L1702.6,870.0 L1703.6,868.4 L1704.7,866.7 L1705.8,865.0 L1706.8,863.4 L1707.9,861.7 L1709.0,860.1 L1710.1,858.4 L1711.2,856.8 L1712.3,855.2 L1713.4,853.5 L1714.5,851.9 L1715.6,850.3 L1716.7,848.7 L1717.8,847.1 L1719.0,845.4 L1720.1,843.8 L1721.2,842.2 L1722.4,840.6 L1723.6,839.0 L1724.7,837.4 L1725.9,835.9 L1727.1,834.3 L1728.2,832.7 L1729.4,831.1 L1730.6,829.5 L1731.8,828.0 L1733.0,826.4 L1734.2,824.8 L1735.4,823.3 L1736.7,821.7 L1737.9,820.2 L1739.1,818.6 L1740.4,817.1 L1741.6,815.6 L1742.9,814.0 L1744.2,812.5 L1745.4,811.0 L1746.7,809.5 L1748.0,808.0 L1749.3,806.5 L1750.6,804.9 L1751.9,803.4 L1753.2,801.9 L1754.5,800.5 L1755.8,799.0 L1757.2,797.5 L1758.5,796.0 L1759.9,794.5 L1761.2,793.1 L1762.6,791.6 L1763.9,790.1 L1765.3,788.7 L1766.7,787.2 L1768.1,785.8 L1769.5,784.3 L1770.9,782.9 L1772.3,781.5 L1773.7,780.0 L1775.1,778.6 L1776.5,777.2 L1778.0,775.8 L1779.4,774.4 L1780.9,773.0 L1782.3,771.6 L1783.8,770.2 L1785.2,768.8 L1786.7,767.5 L1788.2,766.1 L1789.7,764.7 L1791.2,763.4 L1792.7,762.0 L1794.2,760.7 L1795.7,759.3 L1797.2,758.0 L1798.7,756.7 L1800.2,755.4 L1801.8,754.1 L1803.3,752.8 L1804.9,751.5 L1806.4,750.2 L1808.0,748.9 L1809.5,747.6 L1811.1,746.3 L1812.7,745.1 L1814.2,743.8 L1815.8,742.6 L1817.4,741.3 L1819.0,740.1 L1820.6,738.9 L1822.2,737.7 L1823.8,736.5 L1825.4,735.3 L1827.1,734.1 L1828.7,732.9 L1830.3,731.7 L1831.9,730.5 L1833.6,729.4 L1835.2,728.2 L1836.9,727.1 L1838.5,725.9 L1840.2,724.8 L1841.9,723.7 L1843.5,722.6 L1845.2,721.5 L1846.9,720.4 L1848.6,719.3 L1850.3,718.2 L1852.0,717.2 L1853.7,716.1 L1855.4,715.1 L1857.1,714.0 L1858.8,713.0 L1860.5,712.0 L1862.2,711.0 L1863.9,710.0 L1865.7,709.0 L1867.4,708.0 L1869.2,707.0 L1870.9,706.1 L1872.6,705.1 L1874.4,704.2 L1876.1,703.2 L1877.9,702.3 L1879.7,701.4 L1881.4,700.5 L1883.2,699.6 L1885.0,698.7 L1886.8,697.9 L1888.5,697.0 L1890.3,696.2 L1892.1,695.3 L1893.9,694.5 L1895.7,693.7 L1897.5,692.9 L1899.3,692.1 L1901.1,691.3 L1902.9,690.5 L1904.8,689.8 L1906.6,689.0 L1908.4,688.3 L1910.2,687.5 L1912.1,686.8 L1913.9,686.1 L1915.7,685.4 L1917.6,684.8 L1919.4,684.1 L1921.3,683.4 L1923.1,682.8 L1925.0,682.2 L1926.8,681.5 L1928.7,680.9 L1930.5,680.3 L1932.4,679.7 L1934.3,679.1 L1936.1,678.6 L1938.0,678.0 L1939.9,677.5 L1941.8,676.9 L1943.6,676.4 L1945.5,675.9 L1947.4,675.4 L1949.3,674.9 L1951.2,674.4 L1953.1,674.0 L1955.0,673.5 L1956.9,673.1 L1958.8,672.6 L1960.7,672.2 L1962.6,671.8 L1964.5,671.4 L1966.4,671.0 L1968.3,670.6 L1970.2,670.2 L1972.1,669.9 L1974.1,669.5 L1976.0,669.2 L1977.9,668.9 L1979.8,668.5 L1981.7,668.2 L1983.7,667.9 L1985.6,667.6 L1987.5,667.4 L1989.5,667.1 L1991.4,666.8 L1993.3,666.6 L1995.3,666.4 L1997.2,666.1 L1999.2,665.9 L2001.1,665.7 L2003.0,665.5 L2005.0,665.3 L2006.9,665.2 L2008.9,665.0 L2010.8,664.8 L2012.8,664.7 L2014.7,664.6 L2016.7,664.4 L2018.6,664.3 L2020.6,664.2 L2022.6,664.1 L2024.5,664.0 L2026.5,663.9 L2028.4,663.9 L2030.4,663.8 L2032.4,663.8 L2034.3,663.7 L2036.3,663.7 L2038.2,663.7 L2040.2,663.7 L2042.2,663.7 L2044.1,663.7 L2046.1,663.7 L2048.1,663.8 L2050.0,663.8 L2052.0,663.8 L2054.0,663.9 L2056.0,664.0 L2057.9,664.0 L2059.9,664.1 L2061.9,664.2 L2063.8,664.3 L2065.8,664.4 L2067.8,664.6 L2069.8,664.7 L2071.7,664.8 L2073.7,665.0 L2075.7,665.2 L2077.6,665.3 L2079.6,665.5 L2081.6,665.7 L2083.6,665.9 L2085.5,666.1 L2087.5,666.3 L2089.5,666.5 L2091.4,666.8 L2093.4,667.0 L2095.4,667.3 L2097.4,667.5 L2099.3,667.8 L2101.3,668.1 L2103.3,668.4 L2105.2,668.7 L2107.2,669.0 L2109.2,669.3 L2111.1,669.6 L2113.1,669.9 L2115.1,670.3 L2117.0,670.6 L2119.0,671.0 L2121.0,671.4 L2122.9,671.7 L2124.9,672.1 L2126.9,672.5 L2128.8,672.9 L2130.8,673.3 L2132.8,673.8 L2134.7,674.2 L2136.7,674.6 L2138.7,675.1 L2140.6,675.6 L2142.6,676.0 L2144.5,676.5 L2146.5,677.0 L2148.5,677.5 L2150.4,678.0 L2152.4,678.5 L2154.3,679.0 L2156.3,679.6 L2158.2,680.1 L2160.2,680.7 L2162.1,681.2 L2164.1,681.8 L2166.0,682.4 L2168.0,683.0 L2169.9,683.6 L2171.9,684.2 L2173.8,684.8 L2175.8,685.4 L2177.7,686.1 L2179.7,686.7 L2181.6,687.4 L2183.6,688.0 L2185.5,688.7 L2187.4,689.4 L2189.4,690.1 L2191.3,690.8 L2193.2,691.5 L2195.2,692.2 L2197.1,693.0 L2199.0,693.7 L2201.0,694.4 L2202.9,695.2 L2204.8,695.9 L2206.8,696.7 L2208.7,697.5 L2210.6,698.2 L2212.5,699.0 L2214.5,699.8 L2216.4,700.6 L2218.3,701.4 L2220.2,702.2 L2222.1,703.0 L2224.0,703.8 L2226.0,704.6 L2227.9,705.4 L2229.8,706.3 L2231.7,707.1 L2233.6,707.9 L2235.5,708.7 L2237.4,709.6 L2239.3,710.4 L2241.2,711.3 L2243.1,712.1 L2245.0,712.9 L2246.9,713.8 L2248.8,714.6 L2250.7,715.5 L2252.6,716.3 L2254.4,717.2 L2256.3,718.0 L2258.2,718.8 L2260.1,719.7 L2262.0,720.5 L2263.9,721.4 L2265.7,722.2 L2267.6,723.0 L2269.5,723.9 L2271.3,724.7 L2273.2,725.6 L2275.1,726.4 L2276.9,727.2 L2278.8,728.0 L2280.7,728.8 L2282.5,729.7 L2284.4,730.5 L2286.2,731.3 L2288.1,732.1 L2289.9,732.9 L2291.8,733.7 L2293.6,734.5 L2295.5,735.2 L2297.3,736.0 L2299.1,736.8 L2301.0,737.6 L2302.8,738.3 L2304.6,739.1 L2306.5,739.8 L2308.3,740.5 L2310.1,741.3 L2311.9,742.0 L2313.8,742.7 L2315.6,743.4 L2317.4,744.1 L2319.2,744.8 L2321.0,745.5 L2322.8,746.1 L2324.6,746.8 L2326.4,747.4 L2328.2,748.1 L2330.0,748.7 L2331.8,749.3 L2333.6,749.9 L2335.4,750.5 L2337.2,751.1 L2339.0,751.7 L2340.7,752.2 L2342.5,752.8 L2344.3,753.3 L2346.1,753.8 L2347.8,754.4 L2349.6,754.8 L2351.3,755.3 L2353.1,755.8 L2354.9,756.2 L2356.6,756.7 L2358.4,757.1 L2360.1,757.5 L2361.9,757.9 L2363.6,758.3 L2365.3,758.7 L2367.1,759.0 L2368.8,759.3 L2370.5,759.6 L2372.3,759.9 L2374.0,760.2 L2375.7,760.5 L2377.4,760.7" stroke="#ff3d3d"/>
<path d="M313.3,815.7 L314.3,816.7 L315.4,817.7 L316.5,818.7 L317.7,819.8 L318.8,821.0 L320.0,822.2 L321.2,823.4 L322.5,824.7 L323.7,826.1 L325.0,827.5 L326.4,828.9 L327.7,830.3 L329.1,831.8 L330.4,833.3 L331.9,834.8 L333.3,836.3 L334.7,837.9 L336.2,839.4 L337.7,841.0 L339.2,842.6 L340.7,844.2 L342.3,845.7 L343.8,847.3 L345.4,848.9 L347.0,850.4 L348.6,852.0 L350.3,853.5 L351.9,855.0 L353.6,856.5 L355.3,858.0 L356.9,859.4 L358.7,860.8 L360.4,862.2 L362.1,863.5 L363.8,864.8 L365.6,866.0 L367.3,867.2 L369.1,868.4 L370.9,869.5 L372.7,870.5 L374.5,871.5 L376.3,872.4 L378.1,873.2 L379.9,874.0 L381.8,874.7 L383.6,875.3 L385.4,875.9 L387.3,876.3 L389.1,876.7 L391.0,877.0 L392.8,877.2 L394.7,877.4 L396.6,877.4 L398.4,877.4 L400.3,877.4 L402.2,877.2 L404.0,877.0 L405.9,876.8 L407.8,876.4 L409.6,876.1 L411.5,875.6 L413.4,875.1 L415.2,874.6 L417.1,874.0 L418.9,873.4 L420.8,872.7 L422.6,872.0 L424.5,871.2 L426.3,870.4 L428.1,869.6 L429.9,868.8 L431.8,867.9 L433.6,867.0 L435.4,866.1 L437.1,865.1 L438.9,864.2 L440.7,863.2 L442.5,862.2 L444.2,861.2 L445.9,860.2 L447.7,859.1 L449.4,858.1 L451.1,857.0 L452.8,856.0 L454.5,854.9 L456.2,853.8 L457.9,852.7 L459.5,851.6 L461.2,850.5 L462.8,849.3 L464.4,848.2 L466.1,847.0 L467.7,845.9 L469.3,844.7 L470.9,843.5 L472.5,842.3 L474.1,841.1 L475.7,839.9 L477.2,838.7 L478.8,837.4 L480.3,836.2 L481.9,835.0 L483.4,833.7 L485.0,832.4 L486.5,831.1 L488.0,829.9 L489.5,828.6 L491.0,827.3 L492.5,826.0 L494.0,824.6 L495.5,823.3 L496.9,822.0 L498.4,820.6 L499.9,819.3 L501.3,817.9 L502.8,816.6 L504.2,815.2 L505.7,813.8 L507.1,812.5 L508.5,811.1 L509.9,809.7 L511.4,808.3 L512.8,806.9 L514.2,805.5 L515.6,804.0 L517.0,802.6 L518.4,801.2 L519.8,799.7 L521.1,798.3 L522.5,796.9 L523.9,795.4 L525.3,794.0 L526.6,792.5 L528.0,791.0 L529.4,789.6 L530.7,788.1 L532.1,786.6 L533.4,785.1 L534.8,783.7 L536.1,782.2 L537.4,780.7 L538.8,779.2 L540.1,777.7 L541.4,776.2 L542.8,774.7 L544.1,773.2 L545.4,771.7 L546.7,770.2 L548.0,768.6 L549.4,767.1 L550.7,765.6 L552.0,764.1 L553.3,762.6 L554.6,761.0 L555.9,759.5 L557.2,758.0 L558.5,756.5 L559.8,754.9 L561.1,753.4 L562.4,751.9 L563.7,750.3 L565.0,748.8 L566.3,747.3 L567.6,745.8 L568.9,744.2 L570.2,742.7 L571.5,741.2 L572.8,739.6 L574.1,738.1 L575.4,736.6 L576.7,735.0 L578.0,733.5 L579.3,732.0 L580.6,730.5 L581.9,728.9 L583.2,727.4 L584.5,725.9 L585.8,724.4 L587.1,722.8 L588.4,721.3 L589.7,719.8 L591.0,718.3 L592.3,716.8 L593.6,715.2 L595.0,713.7 L596.3,712.2 L597.6,710.7 L598.9,709.2 L600.2,707.7 L601.5,706.2 L602.8,704.7 L604.1,703.1 L605.4,701.6 L606.7,700.1 L608.1,698.6 L609.4,697.1 L610.7,695.6 L612.0,694.1 L613.3,692.7 L614.7,691.2 L616.0,689.7 L617.3,688.2 L618.6,686.7 L619.9,685.2 L621.3,683.7 L622.6,682.2 L623.9,680.8 L625.3,679.3 L626.6,677.8 L627.9,676.4 L629.3,674.9 L630.6,673.4 L632.0,672.0 L633.3,670.5 L634.6,669.0 L636.0,667.6 L637.3,666.1 L638.7,664.7 L640.0,663.2 L641.4,661.8 L642.7,660.3 L644.1,658.9 L645.4,657.5 L646.8,656.0 L648.2,654.6 L649.5,653.2 L650.9,651.7 L652.3,650.3 L653.6,648.9 L655.0,647.5 L656.4,646.1 L657.8,644.7 L659.1,643.3 L660.5,641.9 L661.9,640.5 L663.3,639.1 L664.7,637.7 L666.1,636.3 L667.5,634.9 L668.9,633.5 L670.3,632.2 L671.7,630.8 L673.1,629.4 L674.5,628.0 L675.9,626.7 L677.3,625.3 L678.7,624.0 L680.1,622.6 L681.6,621.3 L683.0,619.9 L684.4,618.6 L685.8,617.3 L687.3,615.9 L688.7,614.6 L690.1,613.3 L691.6,612.0 L693.0,610.7 L694.5,609.4 L695.9,608.1 L697.4,606.8 L698.8,605.5 L700.3,604.2 L701.8,602.9 L703.2,601.6 L704.7,600.3 L706.2,599.1 L707.7,597.8 L709.1,596.5 L710.6,595.3 L712.1,594.0 L713.6,592.8 L715.1,591.6 L716.6,590.3 L718.1,589.1 L719.6,587.9 L721.1,586.6 L722.6,585.4 L724.2,584.2 L725.7,583.0 L727.2,581.8 L728.8,580.7 L730.3,579.5 L731.8,578.3 L733.4,577.1 L735.0,576.0 L736.5,574.8 L738.1,573.7 L739.7,572.6 L741.2,571.4 L742.8,570.3 L744.4,569.2 L746.0,568.1 L747.6,567.1 L749.3,566.0 L750.9,564.9 L752.5,563.9 L754.2,562.8 L755.8,561.8 L757.5,560.8 L759.1,559.8 L760.8,558.8 L762.5,557.8 L764.2,556.8 L765.9,555.8 L767.6,554.9 L769.3,553.9 L771.0,553.0 L772.7,552.1 L774.5,551.2 L776.2,550.3 L778.0,549.5 L779.8,548.6 L781.5,547.7 L783.3,546.9 L785.1,546.1 L787.0,545.3 L788.8,544.5 L790.6,543.7 L792.5,543.0 L794.3,542.2 L796.2,541.5 L798.1,540.8 L800.0,540.1 L801.9,539.5 L803.8,538.8 L805.7,538.2 L807.7,537.5 L809.6,536.9 L811.6,536.3 L813.5,535.8 L815.5,535.2 L817.5,534.7 L819.5,534.2 L821.5,533.7 L823.5,533.2 L825.5,532.7 L827.5,532.3 L829.5,531.9 L831.6,531.5 L833.6,531.1 L835.6,530.7 L837.7,530.4 L839.7,530.1 L841.8,529.8 L843.8,529.5 L845.9,529.2 L847.9,529.0 L850.0,528.8 L852.0,528.6 L854.1,528.4 L856.1,528.3 L858.2,528.1 L860.2,528.0 L862.3,528.0 L864.3,527.9 L866.4,527.9 L868.4,527.9 L870.4,527.9 L872.5,527.9 L874.5,528.0 L876.5,528.1 L878.5,528.2 L880.5,528.4 L882.5,528.5 L884.5,528.7 L886.5,528.9 L888.5,529.2 L890.5,529.4 L892.4,529.7 L894.4,530.1 L896.3,530.4 L898.3,530.8 L900.2,531.2 L902.1,531.6 L904.0,532.1 L905.9,532.6 L907.8,533.1 L909.7,533.6 L911.5,534.2 L913.4,534.8 L915.2,535.4 L917.1,536.0 L918.9,536.7 L920.7,537.4 L922.5,538.1 L924.3,538.8 L926.1,539.6 L927.8,540.4 L929.6,541.2 L931.3,542.0 L933.1,542.9 L934.8,543.8 L936.5,544.7 L938.3,545.6 L940.0,546.5 L941.7,547.5 L943.3,548.5 L945.0,549.5 L946.7,550.5 L948.4,551.5 L950.0,552.6 L951.7,553.6 L953.3,554.7 L954.9,555.9 L956.5,557.0 L958.1,558.1 L959.8,559.3 L961.3,560.5 L962.9,561.7 L964.5,562.9 L966.1,564.1 L967.6,565.4 L969.2,566.6 L970.8,567.9 L972.3,569.2 L973.8,570.5 L975.4,571.8 L976.9,573.1 L978.4,574.5 L979.9,575.8 L981.4,577.2 L982.9,578.6 L984.4,580.0 L985.9,581.4 L987.4,582.8 L988.8,584.2 L990.3,585.7 L991.7,587.1 L993.2,588.6 L994.6,590.0 L996.1,591.5 L997.5,593.0 L998.9,594.5 L1000.4,596.0 L1001.8,597.5 L1003.2,599.0 L1004.6,600.5 L1006.0,602.1 L1007.4,603.6 L1008.8,605.1 L1010.2,606.7 L1011.6,608.2 L1012.9,609.8 L1014.3,611.4 L1015.7,612.9 L1017.1,614.5 L1018.4,616.1 L1019.8,617.7 L1021.1,619.2 L1022.5,620.8 L1023.8,622.4 L1025.2,624.0 L1026.5,625.6 L1027.8,627.2 L1029.2,628.8 L1030.5,630.4 L1031.8,632.0 L1033.1,633.6 L1034.5,635.2 L1035.8,636.8 L1037.1,638.4 L1038.4,640.0 L1039.7,641.6 L1041.0,643.2 L1042.3,644.8 L1043.6,646.4 L1044.9,648.0 L1046.2,649.6 L1047.5,651.1 L1048.8,652.7 L1050.1,654.3 L1051.3,655.9 L1052.6,657.4 L1053.9,659.0 L1055.2,660.6 L1056.5,662.1 L1057.8,663.7 L1059.0,665.2 L1060.3,666.7 L1061.6,668.3 L1062.9,669.8 L1064.1,671.3 L1065.4,672.8 L1066.7,674.3 L1068.0,675.8 L1069.3,677.3 L1070.6,678.8 L1071.8,680.3 L1073.1,681.8 L1074.4,683.3 L1075.7,684.7 L1077.0,686.2 L1078.3,687.6 L1079.6,689.1 L1081.0,690.5 L1082.3,692.0 L1083.6,693.4 L1084.9,694.8 L1086.3,696.2 L1087.6,697.6 L1089.0,699.0 L1090.3,700.4 L1091.7,701.8 L1093.0,703.2 L1094.4,704.6 L1095.8,705.9 L1097.2,707.3 L1098.6,708.7 L1100.0,710.0 L1101.4,711.3 L1102.9,712.7 L1104.3,714.0 L1105.8,715.3 L1107.2,716.6 L1108.7,717.9 L1110.2,719.2 L1111.7,720.4 L1113.2,721.6 L1114.7,722.7 L1116.2,723.8 L1117.8,724.8 L1119.3,725.8 L1120.9,726.6 L1122.5,727.4 L1124.1,728.0 L1125.7,728.6 L1127.3,729.0 L1129.0,729.3 L1130.6,729.4 L1132.3,729.4 L1134.0,729.3 L1135.7,729.0 L1137.4,728.6 L1139.1,728.1 L1140.8,727.5 L1142.5,726.8 L1144.2,726.0 L1145.9,725.0 L1147.6,724.0 L1149.3,723.0 L1150.9,721.8 L1152.6,720.6 L1154.2,719.3 L1155.8,718.0 L1157.4,716.6 L1158.9,715.2 L1160.4,713.8 L1161.9,712.3 L1163.4,710.8 L1164.8,709.3 L1166.2,707.7 L1167.5,706.2 L1168.9,704.6 L1170.2,703.1 L1171.6,701.5 L1172.9,699.9 L1174.2,698.4 L1175.5,696.8 L1176.7,695.2 L1178.0,693.6 L1179.2,691.9 L1180.5,690.3 L1181.7,688.7 L1182.9,687.1 L1184.1,685.4 L1185.3,683.8 L1186.5,682.1 L1187.6,680.5 L1188.8,678.8 L1189.9,677.1 L1191.1,675.5 L1192.2,673.8 L1193.3,672.1 L1194.4,670.4 L1195.5,668.7 L1196.6,667.0 L1197.7,665.3 L1198.8,663.6 L1199.9,661.9 L1200.9,660.2 L1202.0,658.5 L1203.0,656.8 L1204.1,655.1 L1205.1,653.4 L1206.2,651.6 L1207.2,649.9 L1208.2,648.2 L1209.3,646.5 L1210.3,644.8 L1211.3,643.1 L1212.3,641.3 L1213.3,639.6 L1214.3,637.9 L1215.3,636.2 L1216.4,634.5 L1217.4,632.7 L1218.4,631.0 L1219.4,629.3 L1220.4,627.6 L1221.4,625.9 L1222.4,624.2 L1223.4,622.5 L1224.4,620.8 L1225.4,619.1 L1226.4,617.4 L1227.4,615.7 L1228.4,614.0 L1229.4,612.3 L1230.5,610.6 L1231.5,609.0 L1232.5,607.3 L1233.5,605.6 L1234.6,604.0 L1235.6,602.3 L1236.7,600.7 L1237.7,599.0 L1238.8,597.4 L1239.8,595.7 L1240.9,594.1 L1241.9,592.5 L1243.0,590.9 L1244.1,589.2 L1245.2,587.6 L1246.3,586.0 L1247.4,584.4 L1248.4,582.8 L1249.6,581.2 L1250.7,579.6 L1251.8,578.1 L1252.9,576.5 L1254.0,574.9 L1255.1,573.3 L1256.3,571.8 L1257.4,570.2 L1258.6,568.6 L1259.7,567.1 L1260.9,565.5 L1262.0,564.0 L1263.2,562.4 L1264.4,560.9 L1265.6,559.3 L1266.8,557.8 L1268.0,556.3 L1269.2,554.7 L1270.4,553.2 L1271.6,551.7 L1272.8,550.2 L1274.0,548.7 L1275.3,547.1 L1276.5,545.6 L1277.8,544.1 L1279.0,542.6 L1280.3,541.1 L1281.6,539.6 L1282.9,538.1 L1284.1,536.6 L1285.4,535.1 L1286.7,533.7 L1288.0,532.2 L1289.4,530.7 L1290.7,529.2 L1292.0,527.7 L1293.4,526.3 L1294.7,524.8 L1296.1,523.3 L1297.4,521.8 L1298.8,520.4 L1300.2,518.9 L1301.6,517.5 L1303.0,516.0 L1304.4,514.6 L1305.8,513.1 L1307.2,511.7 L1308.6,510.2 L1310.1,508.8 L1311.5,507.4 L1313.0,506.0 L1314.4,504.6 L1315.9,503.2 L1317.4,501.8 L1318.8,500.4 L1320.3,499.0 L1321.8,497.7 L1323.3,496.3 L1324.9,495.0 L1326.4,493.6 L1327.9,492.3 L1329.4,491.0 L1331.0,489.7 L1332.5,488.4 L1334.1,487.1 L1335.7,485.8 L1337.2,484.6 L1338.8,483.3 L1340.4,482.1 L1342.0,480.9 L1343.6,479.7 L1345.2,478.5 L1346.8,477.3 L1348.5,476.1 L1350.1,475.0 L1351.8,473.8 L1353.4,472.7 L1355.1,471.6 L1356.7,470.6 L1358.4,469.5 L1360.1,468.4 L1361.8,467.4 L1363.5,466.4 L1365.2,465.4 L1366.9,464.4 L1368.6,463.5 L1370.3,462.5 L1372.0,461.6 L1373.8,460.7 L1375.5,459.9 L1377.3,459.0 L1379.0,458.2 L1380.8,457.4 L1382.6,456.6 L1384.4,455.8 L1386.2,455.1 L1388.0,454.4 L1389.8,453.7 L1391.6,453.0 L1393.4,452.3 L1395.2,451.7 L1397.1,451.1 L1398.9,450.6 L1400.7,450.0 L1402.6,449.5 L1404.5,449.0 L1406.3,448.5 L1408.2,448.1 L1410.1,447.7 L1412.0,447.3 L1413.9,446.9 L1415.8,446.6 L1417.7,446.3 L1419.6,446.0 L1421.5,445.8 L1423.5,445.6 L1425.4,445.4 L1427.4,445.2 L1429.3,445.1 L1431.3,445.0 L1433.2,444.9 L1435.2,444.9 L1437.1,444.9 L1439.1,444.9 L1441.1,444.9 L1443.1,445.0 L1445.0,445.1 L1447.0,445.2 L1449.0,445.3 L1451.0,445.5 L1453.0,445.7 L1454.9,445.9 L1456.9,446.1 L1458.9,446.4 L1460.9,446.7 L1462.9,447.0 L1464.9,447.3 L1466.8,447.7 L1468.8,448.1 L1470.8,448.5 L1472.8,448.9 L1474.7,449.3 L1476.7,449.8 L1478.7,450.3 L1480.6,450.8 L1482.6,451.4 L1484.5,451.9 L1486.5,452.5 L1488.4,453.1 L1490.4,453.7 L1492.3,454.4 L1494.2,455.0 L1496.1,455.7 L1498.1,456.4 L1500.0,457.2 L1501.9,457.9 L1503.7,458.7 L1505.6,459.4 L1507.5,460.2 L1509.4,461.1 L1511.2,461.9 L1513.1,462.8 L1514.9,463.6 L1516.7,464.5 L1518.5,465.4 L1520.3,466.4 L1522.1,467.3 L1523.9,468.3 L1525.7,469.3 L1527.4,470.3 L1529.2,471.3 L1530.9,472.3 L1532.6,473.3 L1534.4,474.4 L1536.1,475.5 L1537.7,476.6 L1539.4,477.7 L1541.1,478.8 L1542.7,479.9 L1544.4,481.1 L1546.0,482.2 L1547.6,483.4 L1549.2,484.6 L1550.8,485.8 L1552.4,487.0 L1554.0,488.3 L1555.5,489.5 L1557.1,490.8 L1558.6,492.0 L1560.2,493.3 L1561.7,494.6 L1563.2,495.9 L1564.7,497.2 L1566.2,498.5 L1567.7,499.9 L1569.2,501.2 L1570.6,502.6 L1572.1,503.9 L1573.5,505.3 L1575.0,506.7 L1576.4,508.1 L1577.8,509.5 L1579.2,510.9 L1580.6,512.3 L1582.0,513.8 L1583.4,515.2 L1584.8,516.7 L1586.2,518.1 L1587.5,519.6 L1588.9,521.1 L1590.2,522.5 L1591.6,524.0 L1592.9,525.5 L1594.2,527.0 L1595.5,528.5 L1596.8,530.1 L1598.1,531.6 L1599.4,533.1 L1600.7,534.6 L1602.0,536.2 L1603.3,537.7 L1604.6,539.3 L1605.8,540.8 L1607.1,542.4 L1608.3,543.9 L1609.6,545.5 L1610.8,547.1 L1612.0,548.6 L1613.3,550.2 L1614.5,551.8 L1615.7,553.4 L1616.9,555.0 L1618.1,556.6 L1619.3,558.2 L1620.5,559.8 L1621.7,561.4 L1622.9,563.0 L1624.0,564.6 L1625.2,566.2 L1626.4,567.8 L1627.5,569.4 L1628.7,571.0 L1629.8,572.7 L1631.0,574.3 L1632.1,575.9 L1633.2,577.6 L1634.4,579.2 L1635.5,580.9 L1636.6,582.5 L1637.7,584.2 L1638.8,585.8 L1639.9,587.5 L1641.0,589.1 L1642.1,590.8 L1643.2,592.5 L1644.2,594.1 L1645.3,595.8 L1646.4,597.5 L1647.4,599.2 L1648.5,600.8 L1649.6,602.5 L1650.6,604.2 L1651.6,605.9 L1652.7,607.6 L1653.7,609.3 L1654.7,611.0 L1655.8,612.7 L1656.8,614.4 L1657.8,616.1 L1658.8,617.8 L1659.8,619.5 L1660.8,621.3 L1661.8,623.0 L1662.8,624.7 L1663.8,626.4 L1664.7,628.1 L1665.7,629.9 L1666.7,631.6 L1667.7,633.3 L1668.6,635.1 L1669.6,636.8 L1670.5,638.6 L1671.5,640.3 L1672.4,642.0 L1673.4,643.8 L1674.3,645.5 L1675.2,647.3 L1676.2,649.1 L1677.1,650.8 L1678.0,652.6 L1678.9,654.3 L1679.8,656.1 L1680.7,657.9 L1681.6,659.6 L1682.5,661.4 L1683.4,663.2 L1684.3,665.0 L1685.2,666.7 L1686.1,668.5 L1687.0,670.3 L1687.8,672.1 L1688.7,673.9 L1689.6,675.6 L1690.4,677.4 L1691.3,679.2 L1692.1,681.0 L1693.0,682.8 L1693.8,684.6 L1694.7,686.4 L1695.5,688.2 L1696.4,690.0 L1697.2,691.8 L1698.0,693.6 L1698.9,695.4 L1699.7,697.2 L1700.5,699.0 L1701.3,700.8 L1702.1,702.6 L1702.9,704.5 L1703.7,706.3 L1704.5,708.1 L1705.3,709.9 L1706.1,711.7 L1706.9,713.5 L1707.7,715.4 L1708.5,717.2 L1709.3,719.0 L1710.1,720.8 L1710.8,722.7 L1711.6,724.5 L1712.4,726.3 L1713.1,728.2 L1713.9,730.0 L1714.6,731.8 L1715.4,733.7 L1716.2,735.5 L1716.9,737.3 L1717.6,739.2 L1718.4,741.0 L1719.1,742.9 L1719.9,744.7 L1720.6,746.6 L1721.3,748.4 L1722.1,750.3 L1722.8,752.1 L1723.5,754.0 L1724.2,755.8 L1724.9,757.7 L1725.6,759.5 L1726.4,761.4 L1727.1,763.2 L1727.8,765.1 L1728.5,766.9 L1729.2,768.8 L1729.9,770.7 L1730.6,772.5 L1731.2,774.4 L1731.9,776.3 L1732.6,778.1 L1733.3,780.0 L1734.0,781.9 L1734.6,783.7 L1735.3,785.6 L1736.0,787.5 L1736.7,789.3 L1737.3,791.2 L1738.0,793.1 L1738.6,795.0 L1739.3,796.8 L1740.0,798.7 L1740.6,800.6 L1741.3,802.5 L1741.9,804.4 L1742.6,806.2 L1743.2,808.1 L1743.8,810.0 L1744.5,811.9 L1745.1,813.8 L1745.7,815.7 L1746.4,817.5 L1747.0,819.4 L1747.6,821.3 L1748.3,823.2 L1748.9,825.1 L1749.5,827.0 L1750.1,828.9 L1750.7,830.8 L1751.3,832.7 L1752.0,834.6 L1752.6,836.5 L1753.2,838.3 L1753.8,840.2 L1754.4,842.1 L1755.0,844.0 L1755.6,845.9 L1756.2,847.8 L1756.8,849.7 L1757.4,851.6 L1757.9,853.5 L1758.5,855.4 L1759.1,857.3 L1759.7,859.2 L1760.3,861.1 L1760.9,863.0 L1761.4,864.9 L1762.0,866.8 L1762.6,868.7 L1763.2,870.7 L1763.7,872.6 L1764.3,874.5 L1764.9,876.4 L1765.4,878.3 L1766.0,880.2 L1766.6,882.1 L1767.1,884.0 L1767.7,885.9 L1768.3,887.8 L1768.8,889.7 L1769.4,891.6 L1769.9,893.5 L1770.5,895.5 L1771.0,897.4 L1771.6,899.3 L1772.1,901.2 L1772.7,903.1 L1773.3,905.0 L1773.8,906.9 L1774.4,908.8 L1774.9,910.7 L1775.4,912.7 L1776.0,914.6 L1776.5,916.5 L1777.1,918.4 L1777.6,920.3 L1778.2,922.2 L1778.7,924.1 L1779.3,926.1 L1779.8,928.0 L1780.4,929.9 L1780.9,931.8 L1781.5,933.7 L1782.0,935.6 L1782.5,937.5 L1783.1,939.5 L1783.6,941.4 L1784.2,943.3 L1784.7,945.2 L1785.3,947.1 L1785.8,949.0 L1786.4,950.9 L1786.9,952.9 L1787.5,954.8 L1788.0,956.7 L1788.5,958.6 L1789.1,960.5 L1789.6,962.4 L1790.2,964.4 L1790.7,966.3 L1791.3,968.2 L1791.8,970.1 L1792.4,972.0 L1792.9,973.9 L1793.5,975.8 L1794.1,977.8 L1794.6,979.7 L1795.2,981.6 L1795.7,983.5 L1796.3,985.4 L1796.8,987.3 L1797.4,989.2 L1798.0,991.1 L1798.5,993.1 L1799.1,995.0 L1799.7,996.9 L1800.2,998.8 L1800.8,1000.7 L1801.4,1002.6 L1802.0,1004.5 L1802.5,1006.4 L1803.1,1008.3 L1803.7,1010.3 L1804.3,1012.2 L1804.9,1014.1 L1805.4,1016.0 L1806.0,1017.9 L1806.6,1019.8 L1807.2,1021.7 L1807.8,1023.6 L1808.4,1025.5 L1809.0,1027.4 L1809.6,1029.3 L1810.2,1031.2 L1810.8,1033.1 L1811.4,1035.0 L1812.0,1036.9 L1812.6,1038.8 L1813.2,1040.7 L1813.8,1042.6 L1814.4,1044.5 L1815.0,1046.4 L1815.7,1048.3 L1816.3,1050.2 L1816.9,1052.1 L1817.5,1054.0 L1818.1,1055.9 L1818.7,1057.8 L1819.3,1059.7 L1819.8,1061.6 L1820.4,1063.5 L1821.0,1065.4 L1821.6,1067.3 L1822.2,1069.2 L1822.7,1071.1 L1823.3,1073.0 L1823.9,1074.9 L1824.4,1076.7 L1824.9,1078.6 L1825.5,1080.5 L1826.0,1082.4 L1826.5,1084.3 L1827.1,1086.2 L1827.6,1088.1 L1828.2,1089.9 L1828.7,1091.8 L1829.3,1093.7 L1829.8,1095.6 L1830.4,1097.5 L1831.0,1099.3 L1831.7,1101.2 L1832.3,1103.1 L1833.0,1105.0 L1833.7,1106.8 L1834.5,1108.7 L1835.2,1110.6 L1836.1,1112.5 L1836.9,1114.3 L1837.8,1116.2 L1838.8,1118.1 L1839.8,1119.9 L1840.8,1121.8 L1841.9,1123.6 L1843.1,1125.5 L1844.2,1127.3 L1845.5,1129.1 L1846.7,1130.8 L1848.0,1132.5 L1849.4,1134.2 L1850.7,1135.8 L1852.2,1137.4 L1853.6,1138.9 L1855.1,1140.4 L1856.6,1141.8 L1858.1,1143.2 L1859.7,1144.5 L1861.3,1145.7 L1863.0,1146.8 L1864.6,1147.8 L1866.3,1148.8 L1868.0,1149.6 L1869.8,1150.4 L1871.5,1151.1 L1873.3,1151.6 L1875.1,1152.1 L1877.0,1152.4 L1878.8,1152.7 L1880.7,1152.9 L1882.5,1152.9 L1884.4,1152.9 L1886.3,1152.8 L1888.3,1152.7 L1890.2,1152.4 L1892.1,1152.1 L1894.1,1151.6 L1896.0,1151.2 L1898.0,1150.6 L1900.0,1150.0 L1902.0,1149.3 L1904.0,1148.6 L1905.9,1147.9 L1907.9,1147.1 L1909.9,1146.3 L1911.9,1145.6 L1913.9,1144.9 L1915.9,1144.2 L1917.9,1143.6 L1919.9,1143.0 L1921.8,1142.6 L1923.8,1142.2 L1925.8,1141.9 L1927.7,1141.8 L1929.7,1141.8 L1931.6,1141.9 L1933.5,1142.1 L1935.4,1142.3 L1937.3,1142.7 L1939.2,1143.1 L1941.0,1143.6 L1942.9,1144.2 L1944.7,1144.9 L1946.5,1145.6 L1948.3,1146.3 L1950.1,1147.1 L1951.8,1148.0 L1953.5,1148.9 L1955.2,1149.8 L1956.9,1150.8 L1958.5,1151.8 L1960.2,1152.9 L1961.8,1154.0 L1963.4,1155.1 L1965.0,1156.3 L1966.5,1157.5 L1968.0,1158.7 L1969.6,1160.0 L1971.0,1161.3 L1972.5,1162.7 L1974.0,1164.1 L1975.4,1165.5 L1976.8,1166.9 L1978.2,1168.4 L1979.5,1169.9 L1980.9,1171.4 L1982.2,1173.0 L1983.5,1174.6 L1984.8,1176.2 L1986.1,1177.8 L1987.3,1179.4 L1988.5,1181.1 L1989.7,1182.8 L1990.9,1184.5 L1992.1,1186.2 L1993.2,1188.0 L1994.4,1189.7 L1995.5,1191.5 L1996.5,1193.3 L1997.6,1195.1 L1998.6,1196.9 L1999.7,1198.7 L2000.7,1200.5 L2001.6,1202.3 L2002.6,1204.2 L2003.6,1206.0 L2004.5,1207.9 L2005.4,1209.7 L2006.3,1211.6 L2007.1,1213.5 L2008.0,1215.3 L2008.8,1217.2 L2009.6,1219.1 L2010.4,1220.9 L2011.1,1222.8 L2011.9,1224.6 L2012.6,1226.5 L2013.3,1228.3 L2014.0,1230.2 L2014.7,1232.0 L2015.3,1233.8 L2016.0,1235.6 L2016.6,1237.4 L2017.2,1239.2 L2017.7,1241.0 L2018.3,1242.8 L2018.8,1244.5 L2019.3,1246.2 L2019.8,1248.0 L2020.3,1249.7 L2020.8,1251.4 L2021.2,1253.0 L2021.7,1254.7 L2022.1,1256.4 L2022.5,1258.1 L2022.9,1259.8 L2023.3,1261.5 L2023.7,1263.2 L2024.1,1265.0 L2024.6,1266.7 L2025.0,1268.5 L2025.4,1270.3 L2025.8,1272.2 L2026.2,1274.0 L2026.7,1275.9 L2027.1,1277.9 L2027.6,1279.9 L2028.1,1281.9 L2028.6,1284.0 L2029.1,1286.1 L2029.6,1288.3 L2030.2,1290.4 L2030.8,1292.6 L2031.4,1294.8 L2032.0,1297.0 L2032.7,1299.2 L2033.4,1301.4 L2034.2,1303.6 L2034.9,1305.7 L2035.7,1307.9 L2036.6,1310.0 L2037.5,1312.0 L2038.4,1314.1 L2039.4,1316.1 L2040.4,1318.0 L2041.5,1319.9 L2042.6,1321.7 L2043.7,1323.4 L2045.0,1325.1 L2046.2,1326.7 L2047.6,1328.2 L2049.0,1329.6 L2050.4,1330.9 L2051.9,1332.0 L2053.5,1333.1 L2055.1,1334.1 L2056.8,1334.9 L2058.5,1335.6 L2060.2,1336.1 L2062.0,1336.4 L2063.7,1336.5 L2065.4,1336.4 L2067.1,1336.2 L2068.8,1335.7 L2070.4,1335.0 L2072.0,1334.2 L2073.5,1333.2 L2074.9,1332.0 L2076.2,1330.7 L2077.5,1329.3 L2078.7,1327.7 L2079.8,1326.0 L2080.8,1324.2 L2081.7,1322.3 L2082.6,1320.3 L2083.5,1318.4 L2084.3,1316.4 L2085.0,1314.3 L2085.7,1312.3 L2086.4,1310.3 L2087.0,1308.4 L2087.6,1306.5 L2088.2,1304.6 L2088.7,1302.7 L2089.3,1300.9 L2089.8,1299.1 L2090.2,1297.3 L2090.7,1295.6 L2091.1,1293.9 L2091.6,1292.2 L2092.0,1290.5 L2092.4,1288.9 L2092.7,1287.3 L2093.1,1285.8 L2093.5,1284.2 L2093.8,1282.7 L2094.2,1281.2 L2094.6,1279.8 L2094.9,1278.4 L2095.3,1276.9 L2095.6,1275.5 L2096.0,1274.2 L2096.4,1272.8 L2096.7,1271.4 L2097.1,1270.1 L2097.5,1268.7 L2097.9,1267.3 L2098.2,1265.9 L2098.6,1264.5 L2099.0,1263.0 L2099.3,1261.6 L2099.7,1260.1 L2100.1,1258.6 L2100.5,1257.0 L2100.9,1255.4 L2101.2,1253.7 L2101.6,1252.0 L2102.0,1250.3 L2102.4,1248.4 L2102.8,1246.6 L2103.2,1244.7 L2103.5,1242.8 L2103.9,1240.8 L2104.3,1238.9 L2104.7,1236.9 L2105.1,1234.8 L2105.5,1232.8 L2105.9,1230.8 L2106.3,1228.7 L2106.7,1226.7 L2107.1,1224.6 L2107.5,1222.6 L2107.9,1220.6 L2108.3,1218.5 L2108.7,1216.5 L2109.1,1214.5 L2109.5,1212.5 L2109.9,1210.5 L2110.3,1208.5 L2110.7,1206.5 L2111.1,1204.5 L2111.5,1202.5 L2112.0,1200.5 L2112.4,1198.5 L2112.8,1196.5 L2113.2,1194.6 L2113.6,1192.6 L2114.0,1190.6 L2114.5,1188.7 L2114.9,1186.7 L2115.3,1184.7 L2115.7,1182.8 L2116.2,1180.8 L2116.6,1178.9 L2117.0,1177.0 L2117.4,1175.0 L2117.9,1173.1 L2118.3,1171.1 L2118.7,1169.2 L2119.2,1167.3 L2119.6,1165.3 L2120.0,1163.4 L2120.5,1161.5 L2120.9,1159.5 L2121.3,1157.6 L2121.8,1155.7 L2122.2,1153.7 L2122.7,1151.8 L2123.1,1149.9 L2123.6,1147.9 L2124.0,1146.0 L2124.4,1144.1 L2124.9,1142.2 L2125.3,1140.2 L2125.8,1138.3 L2126.3,1136.4 L2126.7,1134.4 L2127.2,1132.5 L2127.6,1130.6 L2128.1,1128.6 L2128.5,1126.7 L2129.0,1124.8 L2129.5,1122.8 L2129.9,1120.9 L2130.4,1119.0 L2130.8,1117.0 L2131.3,1115.1 L2131.8,1113.1 L2132.2,1111.2 L2132.7,1109.3 L2133.2,1107.3 L2133.7,1105.4 L2134.1,1103.4 L2134.6,1101.5 L2135.1,1099.6 L2135.6,1097.6 L2136.0,1095.7 L2136.5,1093.7 L2137.0,1091.8 L2137.5,1089.8 L2138.0,1087.9 L2138.4,1086.0 L2138.9,1084.0 L2139.4,1082.1 L2139.9,1080.1 L2140.4,1078.2 L2140.9,1076.3 L2141.4,1074.3 L2141.9,1072.4 L2142.4,1070.4 L2142.9,1068.5 L2143.3,1066.5 L2143.8,1064.6 L2144.3,1062.7 L2144.8,1060.7 L2145.3,1058.8 L2145.8,1056.8 L2146.4,1054.9 L2146.9,1053.0 L2147.4,1051.0 L2147.9,1049.1 L2148.4,1047.2 L2148.9,1045.2 L2149.4,1043.3 L2149.9,1041.3 L2150.4,1039.4 L2150.9,1037.5 L2151.5,1035.5 L2152.0,1033.6 L2152.5,1031.7 L2153.0,1029.7 L2153.5,1027.8 L2154.1,1025.9 L2154.6,1024.0 L2155.1,1022.0 L2155.6,1020.1 L2156.2,1018.2 L2156.7,1016.3 L2157.2,1014.3 L2157.7,1012.4 L2158.3,1010.5 L2158.8,1008.6 L2159.3,1006.6 L2159.9,1004.7 L2160.4,1002.8 L2161.0,1000.9 L2161.5,999.0 L2162.0,997.1 L2162.6,995.2 L2163.1,993.3 L2163.7,991.4 L2164.2,989.5 L2164.8,987.6 L2165.3,985.7 L2165.9,983.8 L2166.4,981.9 L2167.0,980.0 L2167.6,978.1 L2168.1,976.2 L2168.7,974.3 L2169.3,972.4 L2169.8,970.6 L2170.4,968.7 L2171.0,966.8 L2171.6,964.9 L2172.1,963.1 L2172.7,961.2 L2173.3,959.3 L2173.9,957.5 L2174.5,955.6 L2175.1,953.8 L2175.6,951.9 L2176.2,950.1 L2176.8,948.3 L2177.4,946.4 L2178.0,944.6 L2178.6,942.8 L2179.3,940.9 L2179.9,939.1 L2180.5,937.3 L2181.1,935.5 L2181.7,933.7 L2182.3,931.9 L2183.0,930.1 L2183.6,928.3 L2184.2,926.5 L2184.9,924.7 L2185.5,922.9 L2186.1,921.2 L2186.8,919.4 L2187.4,917.6 L2188.1,915.9 L2188.7,914.1 L2189.4,912.3 L2190.1,910.6 L2190.7,908.8 L2191.4,907.1 L2192.1,905.3 L2192.7,903.5 L2193.4,901.8 L2194.1,900.0 L2194.8,898.3 L2195.5,896.5 L2196.2,894.8 L2196.8,893.1 L2197.5,891.3 L2198.3,889.6 L2199.0,887.8 L2199.7,886.1 L2200.4,884.3 L2201.1,882.6 L2201.8,880.8 L2202.6,879.1 L2203.3,877.3 L2204.0,875.6 L2204.8,873.8 L2205.5,872.0 L2206.3,870.3 L2207.0,868.5 L2207.8,866.8 L2208.5,865.0 L2209.3,863.2 L2210.1,861.4 L2210.8,859.7 L2211.6,857.9 L2212.4,856.1 L2213.2,854.3 L2214.0,852.6 L2214.8,850.8 L2215.6,849.0 L2216.4,847.2 L2217.2,845.4 L2218.0,843.6 L2218.8,841.8 L2219.7,840.1 L2220.5,838.3 L2221.3,836.5 L2222.2,834.7 L2223.0,832.9 L2223.9,831.1 L2224.7,829.3 L2225.6,827.5 L2226.4,825.7 L2227.3,823.9 L2228.2,822.1 L2229.1,820.3 L2230.0,818.6 L2230.8,816.8 L2231.7,815.0 L2232.6,813.2 L2233.6,811.4 L2234.5,809.6 L2235.4,807.8 L2236.3,806.1 L2237.2,804.3 L2238.2,802.5 L2239.1,800.7 L2240.1,798.9 L2241.0,797.2 L2242.0,795.4 L2243.0,793.6 L2243.9,791.8 L2244.9,790.1 L2245.9,788.3 L2246.9,786.5 L2247.9,784.8 L2248.9,783.0 L2249.9,781.3 L2250.9,779.5 L2251.9,777.8 L2252.9,776.0 L2254.0,774.3 L2255.0,772.5 L2256.1,770.8 L2257.1,769.1 L2258.2,767.4 L2259.2,765.6 L2260.3,763.9 L2261.4,762.2 L2262.5,760.5 L2263.5,758.8 L2264.6,757.1 L2265.7,755.4 L2266.9,753.7 L2268.0,752.0 L2269.1,750.3 L2270.2,748.6 L2271.4,746.9 L2272.5,745.3 L2273.7,743.6 L2274.8,741.9 L2276.0,740.3 L2277.2,738.6 L2278.3,737.0 L2279.5,735.4 L2280.7,733.7 L2281.9,732.1 L2283.1,730.5 L2284.3,728.9 L2285.6,727.3 L2286.8,725.7 L2288.0,724.1 L2289.3,722.5 L2290.5,720.9 L2291.8,719.3 L2293.0,717.7 L2294.3,716.2 L2295.6,714.6 L2296.9,713.1 L2298.2,711.5 L2299.5,710.0 L2300.8,708.5 L2302.1,707.0 L2303.5,705.5 L2304.8,704.0 L2306.1,702.5 L2307.5,701.0 L2308.9,699.5 L2310.2,698.0 L2311.6,696.6 L2313.0,695.1 L2314.4,693.7 L2315.8,692.2 L2317.2,690.8 L2318.6,689.4 L2320.0,688.0 L2321.5,686.6 L2322.9,685.2 L2324.4,683.8 L2325.8,682.5 L2327.3,681.1 L2328.8,679.8 L2330.2,678.4 L2331.7,677.1 L2333.2,675.8 L2334.7,674.5 L2336.3,673.2 L2337.8,671.9 L2339.3,670.6 L2340.9,669.3 L2342.4,668.1 L2344.0,666.8 L2345.6,665.6 L2347.1,664.4 L2348.7,663.1 L2350.3,661.9 L2351.9,660.7 L2353.6,659.6 L2355.2,658.4 L2356.8,657.2 L2358.5,656.1 L2360.1,655.0 L2361.8,653.8 L2363.5,652.7 L2365.1,651.6 L2366.8,650.6 L2368.5,649.5 L2370.2,648.4 L2372.0,647.4 L2373.7,646.3 L2375.4,645.3 L2377.2,644.3 L2378.9,643.3 L2380.7,642.3" stroke="#0370e2"/>
</g>
<line x1="1810.5" y1="127.5" x2="1986.1" y2="127.5" stroke="#737373" stroke-width="13" stroke-linecap="round"/>
<text transform="matrix(1.0103,0,0,1.0093,2005.11,154.14)" font-size="79.2">300μm</text>
<line x1="1810.5" y1="235.5" x2="1986.1" y2="235.5" stroke="#ff3d3d" stroke-width="13" stroke-linecap="round"/>
<text transform="matrix(1.0083,0,0,1.0075,2005.56,262.04)" font-size="79.2">500μm</text>
<line x1="1810.5" y1="343.5" x2="1986.1" y2="343.5" stroke="#0370e2" stroke-width="13" stroke-linecap="round"/>
<text transform="matrix(1.0164,0,0,1.0112,2003.76,370.14)" font-size="79.2">700μm</text>
</svg></body></html>
